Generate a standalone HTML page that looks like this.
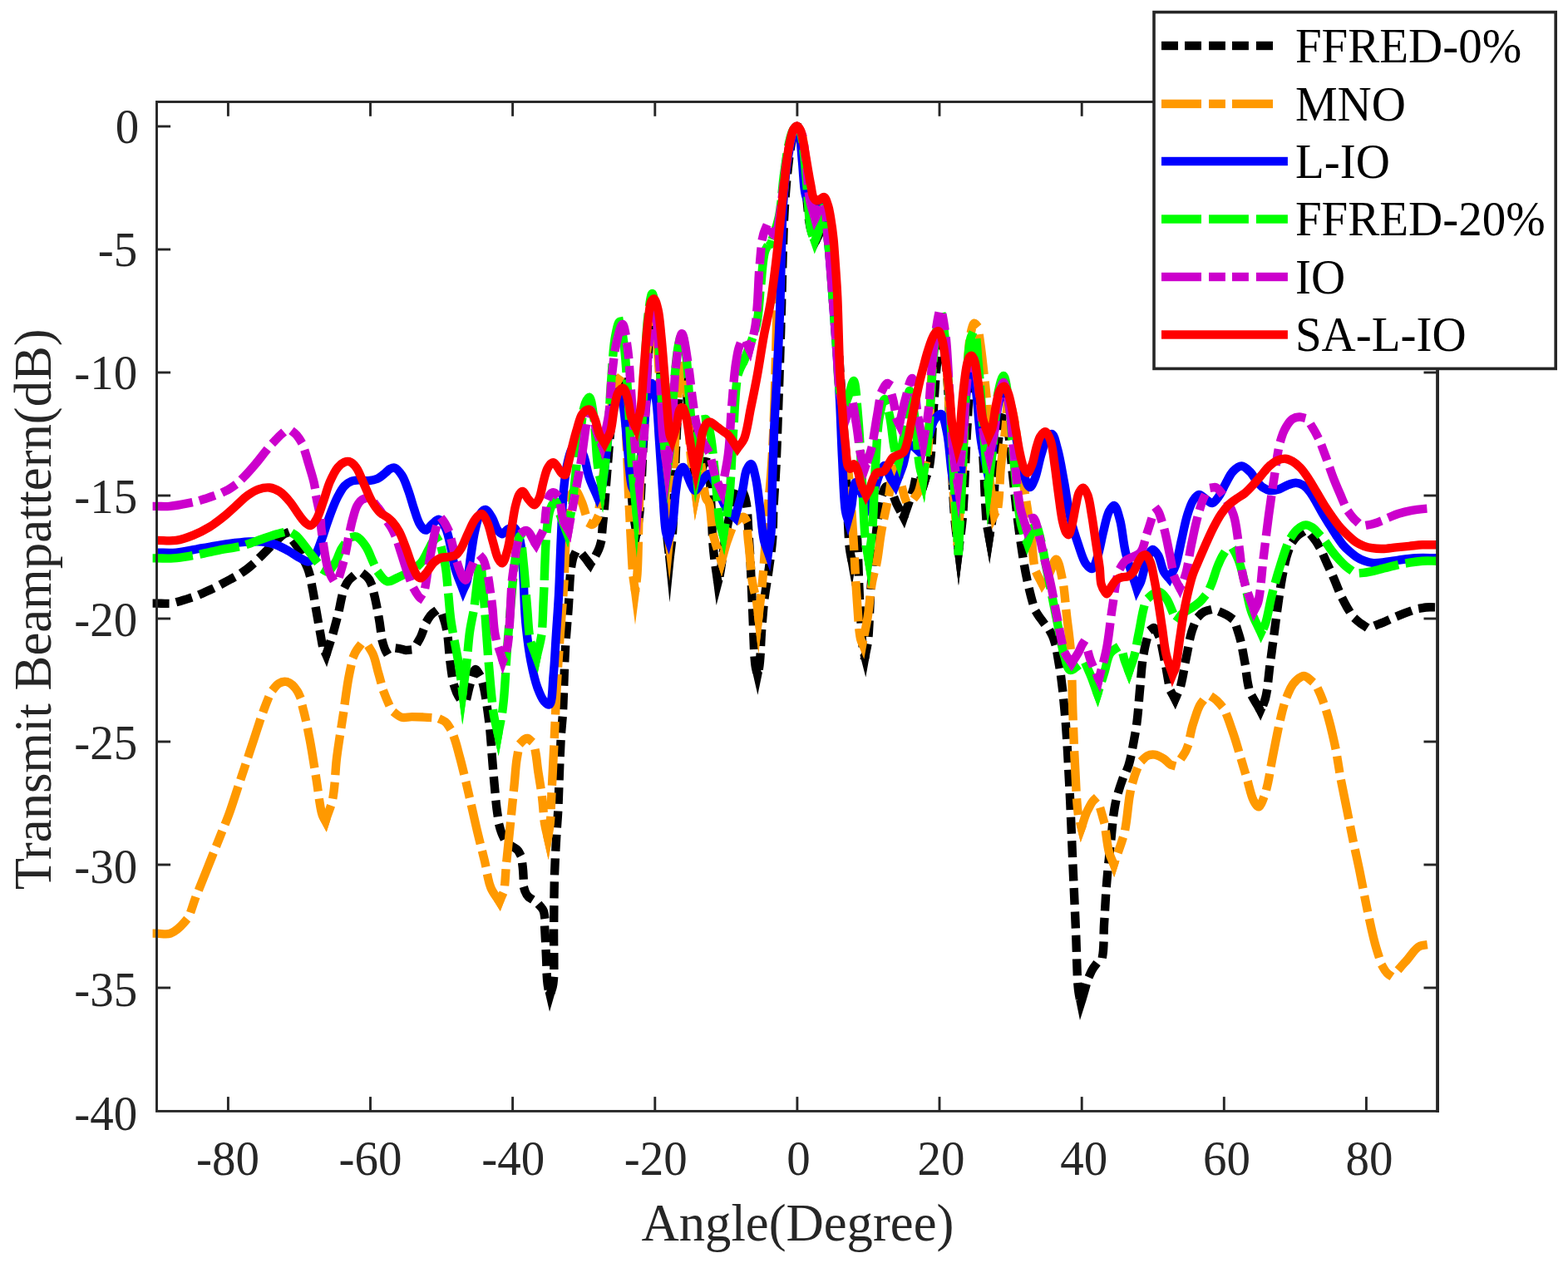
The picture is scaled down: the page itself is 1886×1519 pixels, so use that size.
<!DOCTYPE html>
<html lang="en">
<head>
<meta charset="utf-8">
<title>Transmit Beampattern</title>
<style>
html,body{margin:0;padding:0;background:#fff;}
body{width:1886px;height:1519px;overflow:hidden;}
svg{display:block;}
text{font-family:'Liberation Serif', 'Times New Roman', Times, serif;}
.tk{font-size:58.33px;fill:#262626;}
.lb{font-size:64.17px;fill:#262626;}
.lg{font-size:58.33px;fill:#000;}
</style>
</head>
<body>
<svg xmlns="http://www.w3.org/2000/svg" width="1886" height="1519" viewBox="0 0 1886 1519">
<rect x="0" y="0" width="1886" height="1519" fill="#ffffff"/>
<defs><clipPath id="ax"><rect x="182.3" y="122.5" width="1548.2" height="1213.9"/></clipPath></defs>
<g clip-path="url(#ax)" fill="none" stroke-linejoin="miter" stroke-miterlimit="12" stroke-linecap="butt">
<path d="M390.7 783.8L392.3 787.5L393.5 783.7M660.7 1192.3L661.6 1196.2L662.7 1192.4M707.4 675.7L709.8 678.9L711.7 675.4M764.9 637.4L765.4 641.4L766.1 637.4M805.1 668.2L805.5 672.2L805.9 668.2M838.2 573.5L839.6 577.2L841.3 573.6M862.9 696.9L863.4 700.8L864.4 697.0M910.2 807.4L911.1 811.3L911.9 807.4M979.3 286.7L980.7 290.5L982.5 286.9M1023.8 669.7L1024.5 673.6L1025.1 669.7M1039.4 786.1L1040.4 790.0L1041.1 786.1M1085.2 618.8L1087.0 622.3L1088.3 618.5M1109.4 576.6L1111.9 579.7L1113.1 575.9M1152.5 658.2L1153.0 662.2L1153.5 658.2M1189.2 642.2L1189.9 646.2L1190.5 642.2M1299.3 1202.2L1300.1 1206.2L1301.3 1202.4M1411.6 837.1L1413.4 840.7L1415.0 837.0M1514.1 851.1L1515.9 854.6L1517.5 851.0" stroke="#000000" stroke-width="10.4"/>
<path d="M188.8 725.6C193.8 725.6 198.7 726.2 203.9 725.6C209.6 725.0 215.1 723.5 221.4 721.6C229.2 719.3 238.5 715.8 246.9 712.1C255.5 708.4 264.1 703.8 272.4 699.3C280.6 694.8 289.0 690.4 296.3 685.0C303.3 679.8 309.4 673.3 315.4 667.5C321.0 662.1 326.7 656.0 331.4 651.5C334.9 648.1 338.1 644.3 340.9 642.8C342.6 641.8 344.2 641.0 345.7 641.5C348.0 642.3 349.9 646.9 352.1 649.9C354.6 653.3 357.7 657.0 360.0 661.1C362.5 665.5 364.4 670.9 366.4 675.4C368.1 679.4 369.8 682.1 371.2 686.6C373.1 692.7 374.5 701.1 376.0 708.9C377.7 717.5 379.1 727.0 380.7 736.0C382.3 745.0 384.0 755.2 385.5 763.0C386.6 769.0 387.3 774.6 388.7 779.0C389.7 782.3 391.1 784.7 392.3 787.5C395.2 778.3 398.4 769.0 401.0 760.0C403.4 751.5 405.6 742.9 407.5 735.0C409.2 728.0 410.1 721.1 412.0 715.0C413.7 709.6 415.2 704.0 418.0 700.0C420.4 696.6 423.7 693.6 427.0 692.0C429.9 690.6 433.7 689.7 436.5 690.5C439.4 691.3 441.9 693.9 444.0 697.0C446.8 701.3 448.2 708.2 450.0 715.0C452.3 723.7 454.2 735.0 456.0 745.0C457.8 755.0 458.7 767.8 461.0 775.0C462.4 779.4 463.7 784.2 466.0 785.0C467.9 785.7 470.6 782.8 473.0 782.0C475.3 781.2 477.6 780.0 480.0 780.0C482.6 780.0 485.3 782.0 488.0 782.0C490.7 782.0 493.5 781.6 496.0 780.0C499.3 777.8 502.4 772.7 505.0 768.0C508.2 762.4 510.1 753.4 513.0 748.0C515.2 743.9 517.2 740.4 520.0 738.0C522.5 735.9 526.4 733.2 528.7 734.0C531.3 734.9 532.5 740.8 534.0 745.0C535.9 750.3 537.1 756.6 538.2 763.7C539.7 772.9 540.0 785.3 541.4 795.6C542.7 805.4 544.0 816.6 546.2 824.3C547.8 829.8 549.5 834.7 552.0 838.0C553.9 840.5 557.0 844.0 558.9 843.4C561.8 842.5 562.9 831.3 565.0 825.0C567.2 818.5 569.2 805.6 571.7 805.1C573.1 804.8 574.7 807.8 576.0 810.0C578.0 813.4 579.8 818.7 581.3 824.3C583.3 831.8 584.6 842.1 586.0 851.3C587.4 860.7 588.5 870.2 589.5 880.0C590.5 890.3 591.1 901.3 592.0 911.9C592.9 922.5 593.7 933.1 594.7 943.7C595.7 954.3 596.5 965.9 597.9 975.6C599.1 983.8 600.1 991.9 602.0 998.0C603.4 1002.4 604.8 1005.8 607.0 1009.0C609.1 1012.1 612.2 1014.6 615.0 1017.0C617.7 1019.4 621.3 1020.3 623.4 1023.4C626.1 1027.4 627.0 1033.5 628.3 1040.0C630.0 1048.8 629.2 1065.2 631.5 1071.9C632.7 1075.3 634.2 1077.4 636.0 1079.0C637.5 1080.3 639.4 1080.2 641.1 1081.4C643.4 1082.9 645.9 1085.6 648.0 1088.0C650.1 1090.4 652.5 1092.2 653.8 1095.8C655.9 1101.4 654.9 1111.2 655.4 1119.7C656.0 1129.5 656.5 1140.9 657.0 1151.5C657.5 1162.1 657.5 1175.2 658.6 1183.4C659.3 1188.7 660.6 1191.9 661.6 1196.2C662.8 1191.9 664.4 1189.4 665.3 1183.4C667.2 1170.3 665.9 1139.4 666.1 1119.7C666.3 1102.6 666.3 1086.2 666.6 1071.9C666.8 1060.2 667.0 1051.2 667.5 1040.0C668.0 1027.4 668.9 1011.7 669.6 1000.0C670.1 990.9 670.7 985.7 671.2 975.6C672.0 959.4 672.8 929.5 673.6 911.9C674.1 899.4 674.6 889.5 675.2 880.0C675.7 872.4 676.3 868.4 676.8 859.3C677.9 841.4 678.7 803.2 680.0 780.0C681.1 761.8 682.5 747.4 683.7 731.2C684.8 715.2 685.1 695.1 686.9 683.4C688.0 676.4 688.7 670.5 691.0 667.0C692.5 664.8 694.7 662.5 696.5 662.7C698.7 662.9 700.9 667.4 703.0 670.0C705.3 672.8 707.5 676.0 709.8 678.9C713.6 671.9 718.7 665.5 721.3 657.7C724.1 649.3 723.9 641.0 725.1 630.0C726.9 613.8 728.4 590.0 730.0 570.0C731.7 550.0 733.2 528.6 735.0 510.0C736.6 493.9 737.3 475.8 740.0 465.0C741.6 458.5 744.2 449.9 746.0 450.0C748.0 450.1 749.6 461.5 751.0 470.0C753.4 484.6 754.4 508.6 756.0 530.0C757.8 554.7 758.9 589.5 761.0 610.0C762.3 622.9 764.0 630.9 765.4 641.4C766.6 634.2 767.9 629.6 769.0 620.0C771.2 600.4 772.3 560.0 774.0 530.0C775.7 500.0 777.3 466.3 779.0 440.0C780.3 419.4 781.2 398.1 783.0 385.0C784.0 377.7 785.3 368.0 786.5 368.0C787.7 368.0 789.0 377.7 790.0 385.0C791.8 398.1 792.8 419.4 794.0 440.0C795.5 466.3 796.7 498.5 798.0 530.0C799.4 564.8 800.1 614.3 802.0 640.0C803.0 653.9 804.3 661.4 805.5 672.2C806.7 661.4 808.0 653.7 809.0 640.0C810.8 615.9 811.5 570.4 813.0 540.0C814.2 514.6 815.1 487.4 817.0 470.0C818.1 459.5 819.6 445.0 821.0 445.0C822.3 445.0 823.8 456.6 825.0 465.0C827.0 478.8 828.2 502.6 830.0 520.0C831.6 535.8 832.6 554.8 835.0 565.0C836.3 570.5 838.0 573.1 839.6 577.2C840.7 574.8 841.8 572.9 843.0 570.0C844.6 565.9 846.1 555.3 848.0 555.0C849.2 554.8 850.9 557.3 852.0 560.0C854.7 566.8 854.1 585.3 855.0 600.0C856.1 618.0 856.4 641.9 858.0 660.0C859.4 675.0 861.6 687.2 863.4 700.8C864.3 697.2 865.1 694.8 866.0 690.0C867.8 680.9 869.7 663.3 872.0 650.0C874.3 636.6 876.8 621.3 880.0 610.0C882.4 601.5 884.8 588.7 888.0 588.0C890.1 587.5 893.1 591.1 895.0 595.0C899.5 604.3 899.4 629.9 901.0 650.0C902.9 674.2 903.7 704.2 905.0 730.0C906.2 754.1 906.7 786.7 908.5 800.0C909.3 805.4 910.2 807.6 911.1 811.3C911.9 807.6 912.8 805.0 913.5 800.0C914.8 790.8 915.0 773.3 916.0 760.0C917.0 746.7 918.0 732.4 919.5 720.0C920.8 709.3 922.5 700.7 924.0 690.0C925.7 677.6 927.9 663.4 929.0 650.0C930.1 636.7 929.8 624.1 930.5 610.0C931.3 594.3 932.6 578.6 933.5 560.0C934.6 536.5 935.6 504.8 936.5 480.0C937.3 458.6 937.9 440.0 938.5 420.0C939.1 400.0 939.7 380.0 940.3 360.0C940.8 340.0 941.2 319.1 941.8 300.0C942.4 282.6 942.8 266.2 943.8 250.0C944.7 234.6 946.0 218.8 947.5 205.0C948.8 193.1 950.2 180.8 952.0 172.0C953.2 166.0 954.6 160.6 956.0 157.0C956.9 154.8 957.8 152.0 958.7 152.0C959.7 152.0 961.0 155.2 962.0 158.0C963.9 163.7 964.8 174.6 966.0 185.0C967.6 199.1 968.4 219.3 970.0 235.0C971.4 249.1 972.5 264.9 975.0 275.0C976.6 281.5 978.8 285.3 980.7 290.5C982.2 287.7 983.6 285.5 985.0 282.0C987.1 276.8 988.8 262.2 991.0 262.0C992.8 261.9 995.3 269.5 997.0 275.0C999.7 283.7 1001.5 296.7 1003.0 310.0C1004.9 327.3 1004.9 349.2 1006.0 370.0C1007.2 392.4 1008.6 417.6 1010.0 440.0C1011.3 460.8 1012.7 478.6 1014.0 500.0C1015.4 524.7 1016.7 553.3 1018.0 580.0C1019.3 606.7 1020.2 644.4 1022.0 660.0C1022.7 666.5 1023.7 669.1 1024.5 673.6C1025.7 665.8 1026.9 656.2 1028.0 650.0C1028.7 646.0 1029.4 640.0 1030.0 640.0C1031.7 640.1 1032.6 695.3 1034.0 720.0C1035.3 741.4 1036.3 768.4 1038.0 780.0C1038.7 784.8 1039.6 786.7 1040.4 790.0C1041.6 783.3 1043.0 778.7 1044.0 770.0C1045.9 753.8 1046.2 722.4 1048.0 700.0C1049.6 679.2 1051.8 658.0 1054.0 640.0C1055.8 625.3 1057.3 610.0 1060.0 600.0C1061.7 593.7 1063.5 585.6 1066.0 585.0C1067.8 584.6 1070.2 587.6 1072.0 590.0C1074.5 593.5 1075.7 599.9 1078.0 605.0C1080.6 610.6 1084.0 616.5 1087.0 622.3C1090.7 611.5 1095.0 599.5 1098.0 590.0C1100.4 582.6 1101.2 570.6 1104.0 570.0C1106.2 569.6 1109.3 576.5 1111.9 579.7C1113.9 573.1 1116.4 568.7 1118.0 560.0C1121.0 543.9 1121.3 512.4 1123.0 490.0C1124.6 469.2 1125.6 444.6 1128.0 430.0C1129.4 421.5 1131.5 409.9 1133.0 410.0C1134.9 410.1 1136.6 427.6 1138.0 440.0C1140.3 460.2 1141.4 491.8 1143.0 520.0C1144.8 551.5 1145.8 593.8 1148.0 620.0C1149.4 637.1 1151.3 648.1 1153.0 662.2C1154.7 648.1 1156.6 637.1 1158.0 620.0C1160.2 593.8 1161.1 549.7 1163.0 520.0C1164.5 496.0 1165.2 469.0 1168.0 455.0C1169.4 448.1 1171.6 439.9 1173.0 440.0C1175.2 440.2 1176.6 460.8 1178.0 475.0C1180.2 497.1 1181.4 533.0 1183.0 560.0C1184.4 584.5 1185.2 614.9 1187.0 630.0C1187.9 637.3 1188.9 640.8 1189.9 646.2C1191.3 637.4 1192.8 631.0 1194.0 620.0C1196.1 601.5 1196.3 566.8 1199.0 545.0C1201.1 528.0 1204.2 500.2 1207.0 500.0C1208.6 499.9 1210.5 508.3 1212.0 515.0C1214.7 527.5 1215.8 550.6 1218.0 570.0C1220.4 591.9 1222.9 617.6 1226.0 640.0C1228.9 660.8 1232.1 682.8 1236.0 700.0C1239.0 713.3 1241.8 726.0 1246.0 735.0C1248.9 741.3 1252.7 745.0 1256.0 750.0C1259.3 755.0 1263.3 758.6 1266.0 765.0C1269.9 774.0 1271.7 786.7 1274.0 800.0C1277.0 817.3 1279.1 838.5 1281.0 860.0C1283.2 884.7 1284.5 912.5 1286.0 940.0C1287.6 969.1 1288.7 1000.0 1290.0 1030.0C1291.3 1060.0 1292.8 1091.9 1294.0 1120.0C1295.1 1144.8 1295.3 1174.9 1297.0 1190.0C1297.8 1197.3 1299.0 1200.8 1300.1 1206.2C1300.7 1204.1 1301.2 1202.5 1302.0 1200.0C1303.2 1196.2 1304.8 1190.1 1306.3 1185.3C1307.8 1180.7 1309.3 1175.8 1311.0 1172.0C1312.3 1169.0 1313.5 1166.5 1315.1 1164.1C1316.6 1161.9 1318.3 1159.9 1320.0 1158.0C1321.6 1156.2 1323.8 1155.7 1325.1 1152.8C1328.3 1145.7 1327.1 1125.1 1328.1 1110.3C1329.2 1094.3 1329.9 1076.9 1331.3 1060.2C1332.7 1043.5 1334.5 1026.2 1336.3 1010.2C1337.9 995.4 1338.8 980.5 1341.4 967.6C1343.6 956.6 1347.0 946.2 1350.1 937.6C1352.5 930.9 1355.6 926.4 1357.6 920.1C1359.8 913.1 1361.0 905.6 1362.6 897.5C1364.4 888.2 1366.2 878.1 1367.6 867.5C1369.1 855.7 1369.8 842.7 1371.0 830.0C1372.3 816.9 1373.0 801.7 1375.0 790.0C1376.6 780.6 1378.3 771.3 1381.0 765.0C1382.9 760.7 1385.4 755.0 1387.6 755.0C1389.8 755.0 1392.1 760.6 1394.0 765.0C1397.0 772.1 1398.7 784.6 1401.0 795.0C1403.4 806.2 1405.2 821.8 1408.0 830.0C1409.6 834.7 1411.6 837.1 1413.4 840.7C1415.6 835.5 1418.0 831.4 1420.0 825.0C1422.8 815.7 1424.5 801.6 1427.0 790.0C1429.5 778.3 1431.3 764.4 1435.0 755.0C1437.8 748.1 1441.0 741.5 1445.0 738.0C1448.0 735.4 1451.4 734.1 1455.2 733.8C1459.6 733.4 1465.4 735.1 1470.0 737.0C1474.5 738.9 1479.3 741.2 1482.5 745.0C1486.2 749.3 1487.8 755.6 1490.0 762.5C1492.9 771.6 1494.9 783.9 1497.0 795.0C1499.2 806.4 1499.5 819.6 1503.0 830.0C1506.1 839.2 1511.6 846.4 1515.9 854.6C1518.0 849.8 1520.3 846.2 1522.0 840.0C1524.7 830.1 1525.7 813.1 1527.5 800.0C1529.2 787.3 1530.8 775.0 1532.5 762.5C1534.2 750.0 1535.7 737.3 1537.5 725.0C1539.2 713.1 1540.8 701.0 1543.0 690.0C1545.0 680.1 1546.7 670.0 1550.0 662.0C1552.7 655.4 1555.9 648.8 1560.0 645.0C1563.3 641.9 1568.0 638.8 1571.4 639.3C1574.7 639.8 1577.5 644.1 1580.2 647.3C1583.2 650.9 1585.6 655.3 1588.1 660.0C1590.9 665.3 1593.4 671.7 1596.1 677.5C1598.8 683.3 1601.5 689.0 1604.1 695.0C1606.8 701.2 1609.3 708.2 1612.1 714.2C1614.6 719.8 1617.0 725.0 1620.0 730.0C1623.0 734.9 1626.4 740.2 1630.0 744.0C1633.1 747.3 1637.1 750.2 1640.0 752.0C1642.0 753.3 1643.1 754.4 1645.4 754.6C1649.0 754.9 1654.8 751.9 1660.0 750.0C1666.2 747.7 1673.3 744.0 1680.0 741.3C1686.6 738.6 1693.8 735.6 1700.0 733.8C1705.3 732.2 1710.1 731.0 1715.0 730.5C1719.7 730.0 1724.3 730.5 1729.0 730.5" stroke="#000000" stroke-width="10.4" stroke-dasharray="9.60 18.87" stroke-linecap="square"/>
<path d="M389.6 983.8L391.5 987.4L392.7 983.6M598.6 1080.9L600.7 1084.3L602.2 1080.6M658.0 1003.6L658.9 1007.5L659.6 1003.6M763.5 706.6L764.0 710.5L764.5 706.6M804.2 648.2L804.7 652.2L805.1 648.2M836.5 590.5L837.0 594.5L837.8 590.6M866.6 671.4L867.8 675.2L868.9 671.3M911.8 738.2L912.3 742.2L912.8 738.2M979.8 263.1L981.1 266.9L983.6 263.8M1035.9 770.3L1037.4 774.0L1038.1 770.1M1151.5 648.2L1151.8 652.2L1152.1 648.2M1195.5 615.3L1196.0 619.3L1197.8 615.7M1252.0 698.9L1253.7 702.5L1255.9 699.2M1299.9 991.4L1300.8 995.2L1302.2 991.5M1338.2 1035.9L1339.7 1039.6L1340.9 1035.8" stroke="#ff9900" stroke-width="10.4"/>
<path d="M188.8 1122.6C194.2 1122.6 199.7 1124.6 205.0 1122.6C211.8 1120.0 220.0 1112.1 225.0 1105.1C230.0 1098.0 231.7 1088.4 235.1 1080.1C238.4 1071.8 241.8 1063.4 245.1 1055.1C248.4 1046.7 251.8 1038.4 255.1 1030.0C258.4 1021.7 261.8 1013.3 265.1 1005.0C268.4 996.7 271.9 988.7 275.1 980.0C278.6 970.5 281.8 960.2 285.1 950.2C288.4 940.2 291.8 930.2 295.1 920.2C298.4 910.2 301.8 900.1 305.1 890.1C308.4 880.1 311.6 869.6 315.1 860.1C318.3 851.3 321.3 841.9 325.2 835.1C328.2 829.8 331.4 824.5 335.2 822.1C338.2 820.2 341.9 819.2 345.2 820.1C349.4 821.3 354.5 826.3 357.7 831.3C361.6 837.4 362.9 846.3 365.2 855.1C368.0 865.6 370.3 877.7 372.7 890.1C375.4 904.2 377.7 920.2 380.2 935.2C382.7 950.2 384.8 971.8 387.7 980.2C388.9 983.8 390.2 985.0 391.5 987.4C394.4 978.3 398.0 970.8 400.2 960.2C403.1 946.2 403.1 926.8 405.2 910.2C407.3 893.5 410.2 876.8 412.7 860.1C415.2 843.4 417.3 824.0 420.3 810.1C422.5 799.9 424.1 790.2 427.8 783.8C430.5 779.2 434.5 773.7 437.8 773.8C441.2 773.9 445.1 780.1 447.8 785.0C451.4 791.4 452.8 801.7 455.3 810.1C457.8 818.4 459.7 827.4 462.8 835.1C465.6 842.3 468.8 850.3 472.8 855.1C475.8 858.7 479.1 861.4 482.8 862.6C486.6 863.8 490.9 862.1 495.3 862.1C500.1 862.1 505.5 862.3 510.3 862.6C514.7 862.9 518.8 863.0 522.9 863.9C527.1 864.8 531.9 865.2 535.4 868.1C539.7 871.6 542.6 878.7 545.4 885.1C548.6 892.5 550.5 901.4 552.9 910.2C555.5 919.7 557.9 930.0 560.4 940.2C562.9 950.8 565.4 961.9 567.9 972.7C570.4 983.6 572.8 994.7 575.4 1005.3C577.9 1015.5 580.4 1025.1 582.9 1035.3C585.4 1045.9 586.8 1059.0 590.4 1067.8C593.2 1074.5 597.3 1078.8 600.7 1084.3C602.4 1079.9 604.6 1076.6 605.9 1071.2C607.9 1063.0 607.9 1049.9 609.0 1039.3C610.0 1028.7 611.1 1018.1 612.2 1007.5C613.3 996.9 614.3 986.2 615.4 975.6C616.5 965.0 617.5 954.3 618.6 943.7C619.7 933.1 620.2 921.0 621.8 911.9C623.1 904.9 623.8 897.6 626.6 893.5C628.6 890.6 632.0 887.6 634.5 888.0C637.4 888.5 640.5 894.2 642.5 899.1C645.5 906.2 645.7 918.0 647.3 927.8C648.9 938.1 650.8 949.1 652.1 959.7C653.4 970.3 653.9 982.7 655.3 991.5C656.3 997.8 657.7 1002.2 658.9 1007.5C659.8 1002.2 660.9 997.8 661.6 991.5C662.6 982.7 662.7 970.3 663.2 959.7C663.7 949.1 664.3 938.4 664.8 927.8C665.3 917.2 665.8 908.8 666.4 895.9C667.4 876.0 668.6 843.8 670.0 820.0C671.2 798.8 672.6 780.0 674.0 760.0C675.4 740.0 677.3 719.1 678.4 700.0C679.4 682.6 679.6 665.2 680.5 650.0C681.2 637.3 681.6 625.0 683.0 615.0C684.0 607.4 684.7 599.3 687.0 595.0C688.3 592.5 690.3 589.8 692.0 590.0C694.5 590.3 697.5 598.7 699.7 603.7C702.2 609.3 703.6 617.1 706.0 622.0C707.8 625.7 709.9 630.8 712.0 631.0C713.8 631.1 716.1 628.0 717.6 625.0C720.2 619.7 720.6 609.8 722.0 600.0C724.0 586.2 726.0 566.7 728.0 550.0C730.0 533.3 731.8 515.2 734.0 500.0C735.9 487.3 737.1 472.9 740.0 465.0C741.7 460.4 744.4 454.7 746.0 455.0C748.4 455.4 749.3 470.2 750.5 480.0C752.1 493.8 752.6 512.4 753.5 530.0C754.5 549.7 755.1 572.9 756.0 592.6C756.8 610.2 757.6 625.9 758.5 642.6C759.4 659.3 760.2 680.2 761.5 692.7C762.3 700.2 763.2 704.6 764.0 710.5C764.9 703.7 765.8 698.9 766.5 690.0C767.7 673.6 767.8 643.3 768.5 620.0C769.3 596.7 770.1 573.3 771.0 550.0C771.9 526.7 772.7 502.4 774.0 480.0C775.2 459.2 776.2 437.9 778.5 420.0C780.4 405.3 784.0 379.9 786.0 380.0C787.7 380.0 788.8 398.3 790.0 410.0C791.7 426.5 792.7 448.6 794.0 470.0C795.4 494.7 796.7 523.3 798.0 550.0C799.3 576.7 800.4 611.6 802.0 630.0C802.8 639.7 803.8 644.8 804.7 652.2C805.8 641.4 807.0 633.4 808.0 620.0C809.7 597.6 810.5 557.0 812.0 530.0C813.2 508.0 814.1 486.5 816.0 470.0C817.4 458.2 819.3 440.0 821.0 440.0C822.7 440.0 824.6 457.6 826.0 470.0C828.3 490.2 828.7 527.3 831.0 550.0C832.7 567.0 835.0 579.7 837.0 594.5C838.0 589.7 839.1 585.2 840.0 580.0C841.1 573.9 841.8 560.0 843.0 560.0C844.7 560.0 846.5 592.5 849.2 599.5C850.3 602.3 851.7 602.2 852.8 605.0C855.3 611.8 855.2 630.6 857.8 642.6C860.3 654.0 864.5 664.3 867.8 675.2C870.2 666.8 872.1 658.0 875.0 650.0C877.8 642.3 880.8 632.7 885.0 628.0C887.9 624.7 892.5 620.9 895.0 622.0C899.0 623.8 898.7 640.8 900.2 652.0C902.1 666.1 903.0 687.1 905.0 700.0C906.4 708.8 908.6 714.8 909.8 722.0C911.0 728.8 911.5 735.4 912.3 742.2C913.9 728.1 915.5 716.3 917.0 700.0C919.1 677.6 921.0 644.7 923.0 620.0C924.7 598.6 926.7 580.0 928.0 560.0C929.3 540.0 930.2 520.8 931.0 500.0C931.9 477.6 932.3 453.3 933.0 430.0C933.7 406.7 934.1 382.4 935.0 360.0C935.8 339.2 936.7 320.8 938.0 300.0C939.4 277.6 941.0 251.6 943.0 230.0C944.7 211.4 946.6 191.4 949.0 178.0C950.5 169.4 951.6 161.4 954.0 157.0C955.3 154.5 957.2 151.9 958.7 152.0C960.5 152.2 962.5 156.2 964.0 160.0C966.8 167.4 967.5 182.3 969.0 195.0C970.8 210.2 971.3 231.8 974.0 245.0C975.9 253.9 978.7 259.6 981.1 266.9C984.4 262.9 988.5 254.4 991.0 255.0C994.5 255.9 995.3 273.0 997.0 285.0C999.5 302.5 1001.2 328.2 1003.0 350.0C1004.8 372.2 1006.5 395.0 1008.0 417.0C1009.5 438.3 1010.5 459.3 1012.0 480.0C1013.5 500.3 1015.2 522.6 1017.0 540.0C1018.4 553.4 1020.0 562.0 1021.3 575.6C1023.1 593.9 1024.5 617.2 1026.0 640.0C1027.7 665.7 1029.0 698.6 1030.8 722.0C1032.1 739.5 1033.1 759.9 1035.0 768.0C1035.7 771.0 1036.6 772.0 1037.4 774.0C1039.5 763.4 1041.8 753.4 1043.7 742.0C1045.8 729.0 1046.8 712.1 1049.0 700.0C1050.7 690.5 1053.2 684.1 1054.9 675.0C1056.9 664.4 1057.8 652.3 1060.0 640.0C1062.5 626.0 1066.4 609.2 1069.2 595.6C1071.5 584.1 1072.8 564.0 1075.6 563.7C1077.7 563.5 1080.6 574.0 1083.0 580.0C1085.9 587.1 1087.9 602.3 1091.5 603.6C1093.4 604.3 1096.0 601.7 1098.0 600.0C1100.3 598.1 1102.5 595.9 1104.3 592.4C1107.0 587.1 1108.1 577.5 1110.0 570.0C1111.8 562.6 1113.9 558.0 1115.4 547.8C1118.5 526.6 1118.6 475.2 1120.8 448.0C1122.3 429.1 1123.5 411.4 1126.0 400.0C1127.4 393.5 1129.5 384.9 1131.0 385.0C1132.9 385.1 1134.6 399.5 1136.0 410.0C1138.4 427.4 1139.5 454.6 1141.0 480.0C1142.8 510.4 1144.0 549.4 1146.0 580.0C1147.7 606.0 1149.9 628.1 1151.8 652.2C1153.5 628.1 1155.4 606.6 1157.0 580.0C1158.9 547.2 1160.1 501.9 1162.0 470.0C1163.5 445.5 1164.4 419.4 1167.0 405.0C1168.3 397.6 1169.9 388.9 1171.8 388.6C1173.1 388.4 1174.9 392.2 1176.0 395.0C1177.6 399.1 1178.0 405.2 1179.0 411.7C1180.4 420.9 1181.7 433.5 1183.0 445.0C1184.4 457.3 1185.9 468.0 1187.0 483.4C1188.6 506.5 1188.1 545.2 1190.0 570.0C1191.5 588.8 1194.0 602.9 1196.0 619.3C1197.3 616.7 1198.7 615.4 1199.8 611.5C1202.4 602.0 1202.3 576.5 1204.0 560.0C1205.6 544.7 1207.8 529.9 1209.4 516.0C1210.8 503.4 1211.0 480.2 1213.0 480.0C1214.5 479.9 1217.2 492.1 1219.0 500.0C1221.5 511.0 1222.9 525.7 1225.0 540.0C1227.5 556.7 1230.4 576.7 1233.0 594.0C1235.4 610.0 1237.9 624.7 1240.0 640.0C1242.0 655.1 1242.1 673.7 1245.4 685.0C1247.5 692.4 1250.9 696.7 1253.7 702.5C1256.4 698.4 1259.4 694.6 1262.0 690.0C1265.0 684.8 1267.9 672.4 1270.4 672.6C1273.3 672.8 1276.0 688.1 1278.0 697.6C1280.5 709.8 1281.4 725.7 1283.0 740.0C1284.7 754.8 1286.8 768.1 1288.0 785.0C1289.6 806.8 1289.6 836.4 1290.5 860.0C1291.3 881.1 1291.9 900.0 1293.0 920.0C1294.1 940.0 1294.9 966.7 1297.0 980.0C1298.1 986.8 1299.6 990.2 1300.8 995.2C1303.2 988.5 1305.0 980.9 1308.0 975.0C1310.7 969.8 1314.6 961.2 1317.5 961.5C1321.1 961.9 1324.4 976.0 1327.0 985.0C1330.3 996.4 1331.2 1015.1 1334.0 1025.0C1335.7 1031.2 1337.8 1034.7 1339.7 1039.6C1344.0 1026.5 1349.3 1014.3 1352.6 1000.3C1356.3 984.8 1356.6 964.7 1360.1 950.3C1362.8 938.9 1365.9 927.5 1370.1 920.2C1373.0 915.2 1376.5 910.9 1380.1 909.0C1382.9 907.5 1385.9 907.3 1388.9 907.7C1392.5 908.2 1396.6 910.6 1400.1 912.7C1403.7 914.8 1406.5 920.4 1410.1 920.2C1414.7 919.9 1421.2 911.9 1425.2 905.2C1430.4 896.4 1431.6 880.8 1435.2 870.2C1438.3 861.1 1440.7 850.5 1445.2 845.2C1448.4 841.5 1452.6 838.1 1456.4 838.4C1460.9 838.8 1466.2 844.8 1470.2 850.2C1475.5 857.5 1479.0 869.9 1482.7 880.2C1486.5 890.7 1489.6 902.6 1492.7 912.7C1495.4 921.6 1497.7 929.4 1500.2 937.8C1502.7 946.1 1504.7 957.1 1507.8 962.8C1509.7 966.3 1512.0 970.6 1514.0 970.3C1517.0 969.9 1520.3 958.2 1522.8 950.3C1526.1 939.9 1527.8 925.2 1530.3 912.7C1532.8 900.2 1535.2 887.0 1537.8 875.2C1540.2 864.6 1542.2 854.4 1545.3 845.2C1548.1 837.0 1551.3 828.1 1555.3 822.6C1558.3 818.6 1562.6 815.2 1565.3 813.9C1566.8 813.2 1567.6 812.7 1569.1 813.1C1572.4 814.0 1578.9 819.6 1582.8 825.1C1588.1 832.5 1591.7 844.3 1595.3 855.2C1599.4 867.5 1602.5 881.6 1605.4 895.2C1608.4 909.1 1610.3 924.1 1612.9 937.8C1615.3 950.7 1617.9 962.8 1620.4 975.3C1622.9 987.8 1625.4 1000.5 1627.9 1012.8C1630.4 1024.7 1632.8 1035.0 1635.4 1047.7C1638.5 1062.9 1641.9 1081.8 1645.4 1097.8C1648.6 1112.6 1651.6 1127.9 1655.4 1140.3C1658.5 1150.2 1661.6 1161.1 1665.5 1166.6C1667.8 1169.8 1670.0 1172.9 1673.0 1172.8C1677.7 1172.7 1684.8 1162.3 1690.5 1156.6C1696.4 1150.7 1701.2 1140.8 1708.0 1137.8C1714.2 1135.1 1722.0 1137.8 1729.0 1137.8" stroke="#ff9900" stroke-width="10.4" stroke-dasharray="38.00 18.90 9.60 18.90" stroke-linecap="square"/>
<path d="M188.8 664.6C196.5 664.6 203.6 665.3 211.9 664.6C221.7 663.8 233.1 661.0 243.7 659.2C254.3 657.4 265.7 655.2 275.6 653.9C284.1 652.8 292.3 651.9 299.5 651.5C305.3 651.2 310.1 650.9 315.4 651.5C320.8 652.1 326.2 653.2 331.4 655.0C336.8 656.9 342.4 660.0 347.3 662.7C351.8 665.2 355.8 668.4 360.0 670.6C363.8 672.6 368.0 676.0 371.2 675.4C374.3 674.8 376.8 671.0 379.2 667.5C382.4 662.7 384.7 654.7 387.1 648.3C389.5 642.0 391.3 635.4 393.5 629.2C395.6 623.2 397.7 617.2 399.9 611.7C401.9 606.7 403.8 602.0 406.2 597.4C408.6 592.9 411.2 587.8 414.2 584.6C416.6 582.0 419.3 580.2 422.2 579.0C425.1 577.8 428.4 577.6 431.7 577.4C435.3 577.2 439.2 578.5 442.9 578.2C446.6 577.9 450.6 577.3 454.0 575.8C457.5 574.2 460.9 570.9 463.6 568.7C465.8 567.0 467.2 564.9 469.2 563.9C471.0 563.0 472.9 562.0 474.8 562.6C477.6 563.5 481.0 568.0 483.6 571.9C486.8 576.9 489.1 584.4 491.5 591.0C493.9 597.7 495.7 605.1 497.9 611.7C500.0 617.8 501.8 624.6 504.3 629.2C506.2 632.6 508.8 636.2 510.6 637.2C511.5 637.7 512.1 637.8 513.0 637.5C514.9 636.8 517.6 632.1 520.2 630.0C522.7 627.9 525.7 624.3 528.2 624.8C531.1 625.3 533.9 631.0 536.1 635.6C539.1 641.8 540.6 651.5 542.5 659.5C544.4 667.4 545.0 675.3 547.3 683.4C549.8 692.1 553.8 701.0 557.1 709.8C558.6 706.3 560.3 703.9 561.6 699.3C563.8 691.7 564.8 677.8 566.4 667.5C568.0 657.7 569.1 647.5 571.2 638.8C573.0 631.3 574.7 622.4 577.6 618.1C579.4 615.4 581.8 612.8 583.9 613.0C586.5 613.3 589.6 619.0 591.9 622.8C594.5 627.0 595.9 633.8 598.3 637.2C600.0 639.6 601.8 642.2 603.8 642.3C606.0 642.4 608.5 637.7 611.0 636.4C613.3 635.2 616.2 633.5 618.2 634.3C620.6 635.2 622.3 639.7 623.8 643.6C625.9 649.0 626.6 655.0 627.7 664.3C629.9 682.8 630.0 723.9 632.2 747.8C633.9 766.0 635.9 781.4 638.6 795.6C640.9 807.3 643.4 818.7 646.6 827.4C649.0 833.8 651.5 840.1 654.5 843.4C656.5 845.6 659.2 848.2 660.9 847.4C664.6 845.7 664.4 824.3 665.7 811.5C667.2 796.7 667.8 779.6 668.9 763.7C669.9 747.8 671.1 733.1 672.0 715.9C673.1 695.7 673.7 671.4 674.7 650.0C675.7 629.5 676.2 607.3 677.9 590.0C679.2 576.7 680.7 564.5 683.0 555.0C684.7 548.2 686.2 541.2 689.0 538.0C690.7 536.1 693.2 534.4 695.0 535.0C697.7 535.9 699.9 542.7 702.0 548.0C704.8 555.2 706.1 566.5 709.0 575.0C711.7 582.9 715.3 589.9 718.5 597.4C720.3 593.3 722.4 590.8 724.0 585.0C727.2 573.3 728.5 547.4 731.0 530.0C733.2 514.2 734.7 495.8 738.0 485.0C740.0 478.5 743.1 469.8 745.0 470.0C747.2 470.2 748.6 481.8 750.0 490.0C752.2 502.9 753.3 523.8 755.0 540.0C756.6 555.4 757.6 577.2 760.0 585.0C760.9 587.9 762.0 588.8 763.0 590.7C765.4 580.5 768.1 571.5 770.0 560.0C772.4 545.4 773.4 525.2 775.0 510.0C776.4 497.3 776.9 483.9 779.0 475.0C780.4 469.2 782.4 460.9 784.0 461.0C785.8 461.1 787.7 472.1 789.0 480.0C791.2 492.6 791.7 512.6 793.0 530.0C794.4 549.1 795.6 570.9 797.0 590.0C798.3 607.4 799.0 630.1 801.0 640.0C801.9 644.3 803.0 646.1 804.0 649.1C805.7 642.8 807.6 637.6 809.0 630.0C810.9 619.2 811.4 601.3 813.0 590.0C814.2 581.6 814.9 572.9 817.0 568.0C818.2 565.2 820.1 561.9 821.5 562.0C823.1 562.1 824.5 567.0 826.0 570.0C827.7 573.6 829.2 578.5 831.0 582.0C832.6 585.0 834.2 589.9 836.0 590.0C837.6 590.1 839.3 586.3 841.0 584.0C843.0 581.3 844.8 577.4 847.0 575.0C848.9 572.9 851.1 569.7 853.0 570.0C855.4 570.3 857.8 575.9 860.0 580.0C862.9 585.4 865.2 593.9 868.0 600.0C870.5 605.4 873.0 611.1 876.0 615.0C878.4 618.2 881.3 620.0 884.0 622.5C887.0 611.6 890.6 600.2 893.0 590.0C895.1 581.2 895.5 570.6 898.0 565.0C899.5 561.7 901.8 557.7 903.4 558.0C905.7 558.4 907.4 568.2 909.0 575.0C911.2 584.5 912.4 597.9 914.0 610.0C915.7 622.9 916.7 640.0 919.0 650.0C920.4 656.3 922.3 659.9 924.0 664.9C925.1 656.6 926.7 650.1 927.5 640.0C928.8 624.4 928.4 600.0 929.0 580.0C929.6 560.0 930.3 538.0 931.0 520.0C931.6 505.3 932.3 493.3 933.0 480.0C933.7 466.7 934.3 453.3 935.0 440.0C935.7 426.7 936.4 413.2 937.0 400.0C937.6 387.2 938.1 375.0 938.5 362.0C938.9 348.4 939.2 333.8 939.5 320.0C939.8 306.5 940.1 292.9 940.5 280.0C940.9 267.9 941.3 256.7 942.0 245.0C942.8 233.3 943.7 221.2 945.0 210.0C946.2 199.6 947.8 188.7 949.5 180.0C950.9 173.2 952.2 167.1 954.0 162.0C955.4 158.1 957.4 151.9 958.7 152.0C959.8 152.1 960.7 156.3 961.5 160.0C963.2 167.5 963.8 182.9 965.0 195.0C966.3 207.9 966.4 224.7 969.0 235.0C970.7 241.9 973.6 246.0 975.9 251.6C978.9 248.7 982.3 242.9 985.0 243.0C987.3 243.1 989.4 246.4 991.0 250.0C994.4 257.6 994.5 275.3 996.0 290.0C997.9 308.0 999.4 329.4 1001.0 350.0C1002.7 371.7 1004.5 395.0 1006.0 417.0C1007.5 438.3 1008.9 458.4 1010.0 480.0C1011.2 502.7 1011.8 527.1 1013.0 550.0C1014.2 572.1 1014.9 602.6 1017.0 615.0C1017.8 620.1 1018.9 622.0 1019.9 625.5C1021.3 620.4 1022.7 616.1 1024.0 610.0C1025.8 601.7 1026.4 580.5 1029.0 580.0C1030.6 579.7 1033.1 585.9 1035.0 590.0C1037.7 595.7 1040.1 604.4 1042.6 611.7C1044.4 607.8 1046.3 604.2 1048.0 600.0C1049.8 595.4 1051.3 590.0 1053.0 585.0C1054.7 580.0 1056.0 574.4 1058.0 570.0C1059.7 566.2 1062.0 559.9 1064.0 560.0C1066.4 560.1 1068.6 570.7 1071.0 575.0C1072.9 578.5 1074.9 581.0 1076.8 584.0C1079.9 576.0 1083.1 568.1 1086.0 560.0C1088.9 551.8 1089.7 536.4 1094.0 535.0C1097.5 533.9 1103.3 542.0 1107.9 545.4C1110.9 538.6 1114.3 531.8 1117.0 525.0C1119.6 518.4 1120.8 509.7 1124.0 505.0C1126.2 501.7 1129.8 497.4 1132.0 498.0C1135.3 498.9 1137.1 511.1 1139.0 520.0C1141.9 533.2 1142.7 555.2 1145.0 570.0C1146.8 581.8 1148.9 591.2 1150.9 601.8C1151.9 597.8 1153.1 595.6 1154.0 590.0C1156.2 576.5 1157.3 542.4 1159.0 520.0C1160.6 499.2 1161.6 474.6 1164.0 460.0C1165.4 451.5 1167.5 439.9 1169.0 440.0C1170.9 440.1 1172.4 458.3 1174.0 470.0C1176.2 486.5 1177.3 512.3 1180.0 530.0C1182.1 544.1 1185.1 555.2 1187.7 567.9C1188.8 565.2 1190.0 563.9 1191.0 560.0C1193.5 550.6 1194.7 524.8 1197.0 510.0C1198.8 498.1 1200.3 485.0 1203.0 478.0C1204.5 474.3 1206.4 469.9 1208.0 470.0C1210.1 470.2 1212.2 478.9 1214.0 485.0C1216.7 494.1 1218.6 507.9 1221.0 520.0C1223.6 532.9 1226.1 548.6 1229.0 560.0C1231.2 568.8 1233.6 579.1 1236.0 583.0C1237.0 584.7 1237.9 586.2 1239.0 586.0C1240.8 585.7 1243.2 579.6 1245.0 575.0C1247.7 568.1 1249.5 556.3 1252.0 548.0C1254.2 540.8 1256.1 532.5 1259.0 528.0C1260.9 525.1 1263.4 521.6 1265.3 522.0C1268.1 522.6 1269.9 532.7 1272.0 540.0C1275.0 550.6 1277.4 566.3 1280.0 580.0C1282.7 594.5 1284.8 611.6 1288.0 625.0C1290.6 636.1 1293.8 645.7 1297.0 655.0C1299.8 663.2 1302.4 673.1 1306.0 678.0C1308.3 681.1 1311.3 684.5 1313.5 684.0C1316.2 683.4 1318.0 675.7 1320.0 670.0C1322.8 662.0 1324.6 649.5 1327.0 640.0C1329.2 631.3 1331.0 620.6 1334.0 615.0C1335.8 611.7 1338.3 607.7 1340.2 608.0C1342.8 608.5 1345.0 618.0 1347.0 625.0C1350.0 635.4 1350.7 651.5 1354.0 665.0C1357.5 679.4 1363.0 694.2 1367.5 708.8C1369.0 705.8 1370.5 703.8 1372.0 700.0C1374.4 693.9 1376.2 682.0 1379.0 675.0C1381.2 669.5 1383.7 661.4 1386.4 661.0C1388.5 660.7 1391.1 664.8 1393.0 668.0C1395.9 672.8 1397.2 683.0 1400.0 688.0C1401.9 691.4 1404.2 693.2 1406.3 695.8C1408.9 690.6 1411.8 686.3 1414.0 680.0C1416.9 671.7 1418.7 660.0 1421.0 650.0C1423.3 640.0 1425.3 628.6 1428.0 620.0C1430.1 613.2 1432.1 606.4 1435.0 602.0C1437.1 598.8 1439.6 595.3 1442.2 595.0C1444.7 594.8 1447.4 598.3 1450.0 600.0C1452.6 601.7 1455.4 605.3 1458.0 605.0C1460.8 604.7 1463.6 600.3 1466.0 597.0C1469.0 593.0 1471.2 587.0 1474.0 582.0C1476.9 577.0 1479.4 570.7 1483.0 567.0C1486.0 563.9 1490.0 560.4 1493.4 560.5C1496.9 560.6 1500.7 564.7 1503.7 567.6C1506.8 570.7 1508.9 575.5 1511.7 578.8C1514.2 581.8 1516.8 584.8 1519.7 586.7C1522.4 588.4 1525.3 589.8 1528.4 590.1C1531.7 590.4 1535.5 589.4 1538.8 588.3C1542.1 587.2 1545.0 584.9 1548.3 583.6C1551.6 582.3 1555.4 580.6 1558.7 580.7C1561.8 580.8 1564.8 582.0 1567.5 583.6C1570.4 585.4 1572.9 588.4 1575.4 591.5C1578.3 595.1 1580.8 599.9 1583.4 604.3C1586.1 608.9 1588.7 614.0 1591.4 618.6C1594.0 623.0 1596.6 627.1 1599.3 631.4C1601.9 635.6 1604.6 640.0 1607.3 644.1C1609.9 648.0 1612.5 652.0 1615.3 655.3C1617.8 658.3 1620.5 660.8 1623.2 663.2C1625.8 665.5 1628.3 667.7 1631.2 669.6C1634.1 671.5 1637.3 673.2 1640.7 674.4C1644.2 675.7 1647.9 676.8 1651.9 677.1C1656.3 677.5 1661.3 676.6 1666.2 676.0C1671.4 675.4 1676.5 674.4 1682.2 673.6C1688.6 672.7 1695.6 671.6 1702.9 671.2C1711.1 670.7 1720.3 671.2 1729.0 671.2" stroke="#0000ff" stroke-width="10.4"/>
<path d="M556.0 829.0L556.5 833.0L557.1 829.0M598.2 879.1L599.1 883.0L599.8 879.1M644.0 786.9L645.4 790.7L646.2 786.8M680.3 636.2L681.7 639.9L682.5 636.0M723.2 581.5L724.0 585.4L724.5 581.5M764.7 607.2L765.1 611.2L765.4 607.2M802.1 560.7L802.6 564.7L803.1 560.7M837.4 566.6L837.8 570.6L838.6 566.7M868.9 640.3L870.0 644.1L870.7 640.2M893.5 437.3L895.1 433.6L896.4 429.8M924.7 295.9L927.3 292.9L928.5 289.1M978.7 286.4L980.0 290.2L981.4 286.5M1014.5 485.3L1015.6 489.2L1017.0 485.4M1043.9 668.3L1044.6 672.2L1045.1 668.3M1079.6 551.2L1080.9 555.0L1081.7 551.1M1109.2 572.9L1110.2 576.8L1110.7 572.8M1152.5 663.2L1152.8 667.2L1153.0 663.2M1188.3 580.2L1188.7 584.2L1189.2 580.2M1234.3 649.0L1235.6 652.8L1237.1 649.1M1318.7 831.0L1320.1 834.7L1321.3 830.9M1356.4 804.0L1357.9 807.8L1359.2 804.0M1515.1 757.5L1516.7 761.1L1518.4 757.5" stroke="#00ff00" stroke-width="10.4"/>
<path d="M188.8 671.4C195.4 671.4 201.6 671.9 208.7 671.4C217.1 670.8 226.8 669.1 235.8 667.5C244.8 665.9 253.7 663.7 262.8 661.9C272.2 660.0 282.4 658.7 291.5 656.3C299.9 654.1 308.2 650.7 315.4 648.3C321.3 646.3 327.0 644.1 331.4 642.8C334.5 641.9 336.8 641.1 339.3 640.7C341.5 640.4 343.4 640.1 345.7 640.4C348.6 640.8 352.2 641.6 355.3 643.6C359.2 646.2 362.9 652.0 366.4 656.3C369.8 660.5 372.9 665.1 376.0 669.0C378.7 672.5 381.0 675.6 383.9 678.6C386.8 681.7 390.4 687.5 393.5 687.4C396.7 687.3 400.2 681.2 403.0 677.0C406.2 672.1 408.0 664.3 411.0 659.5C413.4 655.6 416.1 652.4 419.0 649.9C421.5 647.8 424.7 645.4 426.9 645.2C428.4 645.1 429.5 645.7 431.0 646.7C433.7 648.6 437.7 653.5 440.5 657.9C443.7 662.9 445.9 670.0 448.5 675.4C450.7 680.0 452.1 684.3 454.9 688.2C457.9 692.3 461.8 698.4 466.0 699.3C469.9 700.1 474.6 696.3 478.8 694.5C483.1 692.6 487.6 690.4 491.5 688.2C495.0 686.2 498.3 684.1 501.1 681.8C503.6 679.8 505.4 678.1 507.5 675.4C510.3 671.7 512.9 665.6 515.4 661.1C517.6 657.1 519.4 652.4 521.8 649.9C523.5 648.1 525.9 645.8 527.4 646.4C529.6 647.3 530.1 655.7 531.4 661.1C533.0 667.7 534.8 675.3 536.1 683.4C537.6 693.0 538.2 704.7 539.3 715.3C540.4 725.9 540.8 735.2 542.5 747.1C544.7 762.5 549.5 784.4 552.0 800.0C553.9 812.3 555.0 822.0 556.5 833.0C558.0 822.0 559.6 811.5 561.0 800.0C562.5 787.3 563.3 772.1 565.0 760.0C566.4 749.8 568.6 741.6 570.1 731.9C571.7 721.6 572.7 709.8 574.0 700.0C575.1 691.7 576.4 677.0 577.5 677.0C579.1 677.0 580.5 703.4 582.0 720.0C584.0 742.5 585.8 775.3 588.0 800.0C589.9 821.4 591.6 844.8 594.0 860.0C595.5 869.5 597.4 875.3 599.1 883.0C601.1 872.0 603.4 863.1 605.0 850.0C607.4 831.1 608.3 802.4 610.0 780.0C611.6 759.2 613.3 739.1 615.0 720.0C616.6 702.6 617.9 683.8 620.0 670.0C621.5 660.2 623.7 644.9 625.3 645.0C627.1 645.1 628.6 667.3 630.0 680.0C631.6 695.2 632.6 714.3 634.0 730.0C635.3 744.1 635.5 759.0 638.0 770.0C639.8 778.2 642.9 783.8 645.4 790.7C647.4 781.7 649.9 773.8 651.3 763.7C653.0 750.9 652.9 736.8 653.8 720.0C655.0 697.3 655.5 659.8 657.5 640.0C658.7 628.2 659.4 618.6 662.0 612.0C663.6 607.9 666.2 602.8 668.0 603.0C670.3 603.3 671.8 614.1 674.0 620.0C676.4 626.4 679.1 633.3 681.7 639.9C683.8 630.0 686.4 620.0 688.0 610.0C689.6 600.0 690.0 591.7 691.3 580.0C693.1 563.4 695.6 537.3 698.0 520.0C699.9 506.7 701.2 492.2 704.0 485.0C705.4 481.4 707.4 477.4 708.8 477.6C711.1 478.0 712.5 490.7 714.0 500.0C716.4 515.1 716.8 544.3 719.0 560.0C720.4 570.3 722.3 576.9 724.0 585.4C726.0 570.3 728.3 557.3 730.0 540.0C732.2 517.1 733.1 484.2 735.0 460.0C736.5 439.9 737.5 418.3 740.0 405.0C741.4 397.2 743.5 386.8 745.1 386.9C746.9 387.0 748.6 400.4 750.0 410.0C752.2 425.3 753.5 448.0 755.0 470.0C756.9 497.0 758.0 534.2 760.0 560.0C761.5 579.5 763.4 594.1 765.1 611.2C766.7 594.1 768.6 580.3 770.0 560.0C772.1 530.3 773.2 482.5 775.0 450.0C776.4 424.0 777.3 397.8 779.5 380.0C780.9 368.8 782.8 353.0 784.5 353.0C786.3 353.0 788.5 372.4 790.0 385.0C792.1 402.8 793.1 427.2 794.5 450.0C796.0 475.3 796.7 508.9 798.5 530.0C799.7 544.0 801.2 553.1 802.6 564.7C803.7 556.4 804.9 550.6 806.0 540.0C807.9 521.0 809.0 482.8 811.0 460.0C812.5 442.8 813.8 425.4 816.0 415.0C817.2 409.3 818.9 401.9 820.2 402.0C821.9 402.1 823.6 415.3 825.0 425.0C827.3 441.1 828.0 467.2 830.0 490.0C832.2 515.4 835.2 543.7 837.8 570.6C838.6 567.1 839.2 564.8 840.0 560.0C841.5 550.2 842.7 524.8 845.0 515.0C846.2 510.0 847.6 504.0 849.0 504.0C850.6 504.0 852.5 513.1 854.0 520.0C856.6 532.0 858.1 552.6 860.0 570.0C862.1 589.1 863.5 617.0 866.0 630.0C867.2 636.4 868.7 639.4 870.0 644.1C872.4 629.4 875.1 616.9 877.0 600.0C879.5 577.3 880.1 545.8 882.0 520.0C883.8 495.9 884.2 465.0 888.0 450.0C889.9 442.4 892.8 439.1 895.1 433.6C900.1 419.1 906.7 404.8 910.0 390.0C913.3 375.3 913.2 360.0 915.0 345.0C916.8 330.0 917.2 308.3 921.0 300.0C922.7 296.2 925.2 295.3 927.3 292.9C930.6 281.9 934.5 272.2 937.0 260.0C940.0 245.2 940.8 225.5 943.0 210.0C944.9 196.4 946.7 181.9 949.0 172.0C950.5 165.5 951.8 159.4 954.0 156.0C955.4 153.9 957.3 151.7 958.7 152.0C960.4 152.3 961.8 156.5 963.0 160.0C965.0 165.9 965.8 175.4 967.0 185.0C968.6 197.8 969.7 215.0 971.0 230.0C972.3 245.0 972.8 264.1 975.0 275.0C976.3 281.5 978.3 285.1 980.0 290.2C981.3 286.8 982.7 284.4 984.0 280.0C986.2 272.7 988.1 250.0 990.0 250.0C992.2 250.1 994.3 275.3 996.0 290.0C998.1 307.9 999.4 329.4 1001.0 350.0C1002.7 371.7 1004.4 396.0 1006.0 417.0C1007.4 435.7 1007.6 456.8 1010.0 470.0C1011.5 478.1 1013.8 482.8 1015.6 489.2C1017.4 484.4 1019.2 480.0 1021.0 475.0C1022.9 469.6 1025.2 457.8 1026.8 458.0C1029.3 458.3 1030.5 483.7 1032.0 500.0C1034.1 522.4 1035.5 554.2 1037.0 580.0C1038.4 604.1 1039.2 633.2 1041.0 650.0C1042.0 659.5 1043.4 664.8 1044.6 672.2C1046.1 661.5 1047.8 653.2 1049.0 640.0C1050.9 619.3 1051.4 584.7 1053.0 560.0C1054.4 538.6 1055.2 514.5 1058.0 500.0C1059.6 491.4 1062.0 480.0 1064.0 480.0C1066.0 480.0 1068.2 492.1 1070.0 500.0C1072.5 511.0 1073.6 529.9 1076.0 540.0C1077.5 546.3 1079.2 550.0 1080.9 555.0C1083.2 543.4 1085.9 532.8 1088.0 520.0C1090.4 504.9 1091.7 470.1 1094.0 470.0C1095.8 469.9 1098.2 488.2 1100.0 500.0C1102.5 516.5 1103.6 546.2 1106.0 560.0C1107.3 567.4 1108.8 571.2 1110.2 576.8C1112.5 557.9 1115.1 540.6 1117.0 520.0C1119.2 495.6 1120.0 462.8 1122.0 440.0C1123.5 422.8 1124.7 406.3 1127.0 395.0C1128.4 387.9 1130.5 377.9 1132.0 378.0C1134.0 378.1 1135.5 397.2 1137.0 410.0C1139.1 428.8 1140.4 455.2 1142.0 480.0C1143.8 508.1 1145.2 539.4 1147.0 570.0C1148.8 601.8 1150.8 634.8 1152.8 667.2C1154.5 631.4 1156.3 596.0 1158.0 560.0C1159.7 523.6 1160.8 478.6 1163.0 450.0C1164.4 431.7 1165.0 412.3 1168.0 405.0C1169.1 402.2 1170.9 399.7 1172.0 400.0C1174.9 400.8 1175.4 424.4 1177.0 440.0C1179.2 462.1 1180.9 494.8 1183.0 520.0C1184.8 542.6 1186.8 562.8 1188.7 584.2C1190.5 569.4 1192.2 556.4 1194.0 540.0C1196.3 519.4 1197.7 485.6 1201.0 470.0C1202.7 461.9 1205.2 451.9 1207.0 452.0C1209.3 452.1 1211.2 468.2 1213.0 480.0C1216.0 499.8 1217.4 534.2 1220.0 560.0C1222.4 584.1 1224.3 613.2 1228.0 630.0C1230.2 639.8 1233.1 645.2 1235.6 652.8C1237.4 648.5 1239.1 643.7 1241.0 640.0C1242.6 637.0 1244.4 631.8 1246.0 632.0C1248.2 632.3 1250.2 643.2 1252.0 650.0C1254.3 658.7 1255.9 669.6 1258.0 680.0C1260.2 691.2 1262.7 703.3 1265.0 715.0C1267.3 726.7 1269.6 738.1 1272.0 750.0C1274.5 762.4 1277.0 777.8 1280.0 788.0C1282.1 795.2 1283.7 804.7 1287.0 806.0C1289.2 806.9 1292.4 803.6 1295.0 802.0C1297.7 800.3 1300.6 795.5 1303.0 796.0C1305.8 796.6 1307.7 803.1 1310.0 808.0C1313.4 815.0 1316.7 825.8 1320.1 834.7C1322.7 826.5 1325.4 818.3 1328.0 810.0C1330.7 801.7 1331.8 790.1 1336.0 785.0C1338.9 781.5 1344.1 778.0 1346.9 779.0C1350.1 780.2 1351.1 790.0 1353.0 795.0C1354.7 799.5 1356.2 803.5 1357.9 807.8C1359.9 801.8 1362.2 796.8 1364.0 790.0C1366.3 781.4 1367.8 770.4 1370.0 760.0C1372.4 748.8 1374.2 732.9 1378.0 725.0C1380.3 720.3 1382.9 717.2 1386.0 715.0C1388.7 713.1 1392.3 711.4 1395.0 712.0C1398.0 712.7 1400.7 716.7 1403.0 720.0C1405.8 724.0 1408.0 730.4 1410.0 735.0C1411.7 738.9 1412.5 745.6 1414.6 746.0C1416.6 746.4 1419.2 740.3 1422.0 738.0C1424.9 735.6 1428.5 734.4 1432.0 732.0C1436.1 729.2 1441.2 726.2 1445.0 722.0C1449.3 717.4 1452.8 711.4 1456.0 705.0C1459.6 697.7 1461.8 687.2 1465.0 680.0C1467.5 674.3 1469.7 668.4 1473.0 665.0C1475.5 662.4 1479.0 659.4 1481.5 660.0C1484.5 660.7 1486.8 667.0 1489.0 672.0C1492.2 679.2 1494.5 690.1 1497.0 700.0C1499.8 711.0 1501.4 724.3 1505.0 735.0C1508.2 744.5 1512.8 752.4 1516.7 761.1C1518.5 757.4 1520.3 754.9 1522.0 750.0C1524.9 741.7 1527.0 726.6 1530.0 715.0C1533.0 703.3 1536.5 691.0 1540.0 680.0C1543.2 670.1 1546.1 659.7 1550.0 652.0C1553.0 646.0 1556.1 640.5 1560.0 637.0C1563.2 634.1 1567.3 631.6 1570.6 631.4C1573.4 631.2 1576.1 632.9 1578.6 634.5C1581.5 636.4 1584.0 639.6 1586.6 642.5C1589.3 645.5 1591.9 648.7 1594.5 652.1C1597.2 655.6 1599.8 659.7 1602.5 663.2C1605.1 666.6 1607.8 669.8 1610.5 672.8C1613.1 675.6 1615.5 678.3 1618.4 680.7C1621.3 683.1 1624.7 685.7 1628.0 687.1C1631.1 688.4 1634.2 688.9 1637.6 689.0C1641.5 689.1 1646.1 687.9 1650.3 687.1C1654.6 686.2 1658.5 685.0 1663.0 683.9C1668.0 682.6 1673.7 681.1 1679.0 679.9C1684.3 678.7 1689.6 677.7 1694.9 676.8C1700.2 675.9 1705.3 675.1 1710.8 674.7C1716.6 674.3 1722.9 674.7 1729.0 674.7" stroke="#00ff00" stroke-width="10.4" stroke-dasharray="38.00 18.90" stroke-linecap="square"/>
<path d="M603.6 790.6L604.8 794.5L606.1 790.7M642.3 651.4L644.6 654.7L646.4 651.1M681.7 633.9L683.7 637.4L684.4 633.4M722.7 532.5L724.1 536.2L725.0 532.3M768.5 580.2L768.9 584.2L769.2 580.2M801.8 558.6L802.3 562.5L802.8 558.6M866.2 586.6L867.9 590.2L868.6 586.3M899.6 416.3L901.4 419.9L902.4 416.0M979.2 258.6L980.3 262.5L982.1 259.0M1016.2 500.6L1017.0 504.6L1018.2 500.7M1039.2 558.4L1040.6 562.1L1041.9 558.3M1079.9 506.8L1081.7 510.4L1082.6 506.5M1109.6 528.8L1110.3 532.7L1111.0 528.8M1151.5 578.5L1152.1 582.5L1152.5 578.5M1189.0 543.8L1189.9 547.7L1190.8 543.8M1233.6 632.2L1234.7 636.1L1236.9 632.7M1286.9 794.3L1289.0 797.7L1291.1 794.3M1320.0 813.0L1321.7 816.7L1322.6 812.8M1417.3 703.6L1419.1 707.1L1420.6 703.5M1507.2 730.2L1508.5 734.0L1510.3 730.5" stroke="#cc00cc" stroke-width="10.4"/>
<path d="M188.8 608.9C193.8 608.9 198.3 609.4 203.9 608.9C211.0 608.3 220.2 606.6 227.8 604.9C235.0 603.3 241.2 601.8 248.5 599.3C257.0 596.4 268.0 592.7 275.6 588.2C281.9 584.5 286.4 580.2 291.5 575.4C297.0 570.2 302.6 563.7 307.5 557.9C312.1 552.6 316.0 547.0 320.2 542.0C324.0 537.5 327.7 533.0 331.4 529.2C334.6 525.9 337.9 522.3 340.9 520.5C343.1 519.2 345.2 518.4 347.3 518.4C349.4 518.4 351.7 519.2 353.7 520.5C356.0 522.0 358.1 524.6 360.0 527.6C362.5 531.4 364.6 537.0 366.4 542.0C368.3 547.1 369.5 552.1 371.2 557.9C373.2 564.7 376.0 573.0 377.6 580.2C379.1 586.8 379.5 592.6 380.7 599.3C382.1 606.8 384.6 616.5 385.5 623.2C386.2 628.0 385.8 630.1 386.4 635.6C387.7 646.4 391.3 673.2 394.3 683.4C395.8 688.5 397.4 691.7 399.1 694.5C400.4 696.5 401.7 699.3 403.1 699.3C404.7 699.3 406.5 695.5 407.9 692.9C409.6 689.5 410.6 684.7 411.9 680.2C413.3 675.2 414.6 670.0 415.8 664.3C417.2 657.9 418.3 650.5 419.8 643.6C421.3 636.7 422.8 629.0 424.6 622.8C426.1 617.5 427.3 612.3 429.4 608.5C431.0 605.5 432.6 602.8 435.0 601.3C437.4 599.9 440.8 598.8 443.7 599.7C447.5 600.9 451.5 606.8 454.9 610.9C458.4 615.2 461.4 620.6 464.4 625.2C467.1 629.4 469.9 632.9 472.1 637.2C474.4 641.7 476.2 646.6 478.0 651.5C479.9 656.6 481.5 662.2 483.2 667.5C484.9 672.8 486.4 678.0 488.3 683.4C490.3 689.1 492.4 695.6 494.7 700.9C496.7 705.6 498.9 710.4 501.1 713.7C502.7 716.0 504.5 719.4 505.9 719.2C507.7 718.9 509.3 713.3 510.6 708.9C512.8 701.8 513.8 689.5 515.4 680.2C517.0 671.4 518.7 662.2 520.2 654.7C521.4 648.8 522.0 643.8 523.4 638.8C524.7 634.2 526.5 628.3 528.2 626.0C529.0 624.9 529.7 624.0 530.6 624.1C532.5 624.4 535.8 630.2 537.7 634.0C539.8 638.2 541.0 643.2 542.5 648.3C544.2 654.2 545.6 661.4 547.3 667.5C548.8 673.1 550.4 678.6 552.1 683.4C553.6 687.5 555.1 692.0 556.8 694.5C557.8 696.0 558.9 697.9 560.0 697.7C562.0 697.3 564.4 687.7 566.4 683.4C568.1 679.9 568.9 675.9 571.2 673.8C573.3 671.9 577.0 669.7 579.2 670.6C582.3 671.9 583.8 680.4 585.5 686.6C587.7 694.7 589.1 707.0 590.3 715.3C591.2 721.6 591.7 725.5 592.4 731.9C593.4 740.8 593.5 753.3 595.6 763.7C597.7 774.1 601.7 784.2 604.8 794.5C606.5 789.5 608.6 785.7 609.9 779.7C611.8 771.2 612.2 759.6 613.1 747.8C614.2 733.3 614.5 712.6 615.8 699.3C616.7 689.9 617.9 683.1 619.0 675.4C620.0 668.2 620.6 660.7 622.2 654.7C623.5 649.9 624.6 644.8 626.9 642.0C628.6 639.9 631.1 637.5 633.3 638.0C636.9 638.8 640.8 649.1 644.6 654.7C647.7 648.3 651.9 642.5 654.0 635.6C656.2 628.2 655.7 619.0 657.2 611.7C658.5 605.4 659.5 596.9 662.0 594.2C663.3 592.8 665.3 592.0 666.8 592.6C669.2 593.5 671.4 599.1 673.1 603.7C675.5 610.0 675.6 621.5 677.9 627.6C679.5 631.7 681.8 634.1 683.7 637.4C688.5 611.6 693.5 584.9 698.0 560.0C702.2 536.8 705.9 492.9 710.0 492.7C712.6 492.6 715.4 512.1 718.0 520.0C720.1 526.2 722.1 530.8 724.1 536.2C726.8 524.2 730.0 513.3 732.0 500.0C734.4 484.2 734.5 463.6 736.4 447.6C738.0 434.0 739.4 420.5 742.0 410.0C743.9 402.2 746.9 389.9 748.9 390.0C751.3 390.2 753.4 408.7 755.0 420.0C757.0 434.5 757.7 453.1 759.0 470.0C760.3 487.3 761.0 504.5 762.6 522.7C764.3 542.4 766.8 563.7 768.9 584.2C770.9 562.8 773.3 543.8 775.0 520.0C777.2 490.4 777.5 448.3 780.0 420.0C781.9 398.9 784.9 365.0 787.0 365.0C789.3 365.0 791.4 406.6 793.0 430.0C794.9 457.5 794.9 495.6 797.0 520.0C798.4 536.8 800.5 548.4 802.3 562.5C804.2 548.4 806.4 536.4 808.0 520.0C810.2 497.5 810.3 461.8 813.0 440.0C814.9 424.7 817.7 401.3 820.2 401.3C822.7 401.3 825.9 427.0 828.0 440.0C830.1 453.2 831.3 467.6 833.0 480.0C834.5 490.7 835.4 501.1 837.7 510.0C839.6 517.4 842.3 523.9 845.0 530.0C847.4 535.5 850.6 539.0 853.0 545.0C856.2 553.1 858.1 566.8 861.0 575.0C863.2 581.0 865.6 585.1 867.9 590.2C870.5 575.8 873.8 562.5 875.8 547.0C878.1 529.4 878.4 508.8 880.0 490.0C881.6 471.6 883.1 449.4 885.3 435.6C886.7 427.0 887.6 419.7 890.0 415.0C891.5 412.0 894.0 408.3 895.7 408.5C897.8 408.8 899.5 416.1 901.4 419.9C903.6 411.6 906.4 403.5 908.0 395.0C909.6 386.2 909.9 378.2 910.8 367.7C912.0 353.5 912.3 333.1 913.8 317.6C915.1 304.1 915.9 288.7 918.8 280.0C920.5 275.0 923.2 268.7 925.0 268.8C926.8 268.9 927.6 278.8 929.5 281.0C930.5 282.2 932.0 283.4 933.0 283.0C935.1 282.1 935.8 271.8 937.0 265.0C938.5 256.3 939.6 245.7 941.0 235.0C942.6 222.6 944.1 207.0 946.0 195.0C947.5 185.1 949.2 175.3 951.0 168.0C952.3 162.8 953.2 157.7 955.0 155.0C956.1 153.4 957.5 151.8 958.7 152.0C960.5 152.3 962.5 156.3 964.0 160.0C966.6 166.6 967.5 178.7 969.0 190.0C970.9 204.5 971.5 226.7 974.0 240.0C975.7 249.1 978.2 255.0 980.3 262.5C983.5 256.3 987.5 243.6 990.0 244.0C993.7 244.7 994.3 273.6 996.0 290.0C998.0 308.7 999.4 329.4 1001.0 350.0C1002.7 371.7 1004.4 396.0 1006.0 417.0C1007.4 435.7 1007.8 454.3 1010.0 470.0C1011.8 482.8 1014.7 493.0 1017.0 504.6C1018.0 501.4 1018.9 498.4 1020.0 495.0C1021.3 491.2 1023.0 482.9 1024.4 483.0C1026.4 483.1 1028.2 500.1 1030.0 510.0C1032.1 522.0 1033.5 540.6 1036.0 550.0C1037.4 555.3 1039.1 558.1 1040.6 562.1C1043.1 554.7 1045.8 548.5 1048.0 540.0C1050.8 528.7 1052.7 512.4 1055.0 500.0C1057.0 489.3 1058.0 476.9 1061.0 470.0C1062.8 465.9 1065.5 460.7 1067.4 461.0C1070.0 461.4 1072.1 473.2 1074.0 480.0C1076.1 487.7 1077.2 499.8 1079.0 505.0C1079.9 507.5 1080.8 508.6 1081.7 510.4C1084.1 500.3 1086.3 489.6 1089.0 480.0C1091.5 471.2 1094.7 454.8 1097.0 455.0C1100.0 455.2 1101.6 486.2 1104.0 500.0C1106.1 511.8 1108.2 521.8 1110.3 532.7C1112.2 521.8 1114.4 512.6 1116.0 500.0C1118.2 483.1 1119.2 458.6 1121.0 440.0C1122.6 423.9 1123.9 407.3 1126.0 395.0C1127.5 386.2 1129.5 372.7 1131.2 372.7C1133.1 372.7 1135.4 388.7 1137.0 400.0C1139.5 417.9 1140.4 445.9 1142.0 470.0C1143.7 495.8 1144.7 529.3 1147.0 550.0C1148.4 563.3 1150.4 571.7 1152.1 582.5C1154.0 565.0 1156.3 548.8 1158.0 530.0C1160.0 508.4 1160.7 479.3 1163.0 460.0C1164.7 446.3 1166.8 425.0 1169.0 425.0C1171.2 425.0 1173.9 446.7 1176.0 460.0C1178.7 477.3 1180.1 503.9 1183.0 520.0C1185.0 531.1 1187.6 538.5 1189.9 547.7C1192.0 538.5 1194.3 530.1 1196.0 520.0C1198.1 507.9 1198.7 491.0 1201.0 480.0C1202.7 472.1 1205.0 459.9 1207.0 460.0C1209.4 460.1 1212.0 478.2 1214.0 490.0C1216.7 506.5 1217.8 530.0 1220.0 550.0C1222.2 570.0 1223.8 594.2 1227.0 610.0C1229.2 620.6 1232.2 627.4 1234.7 636.1C1237.5 631.7 1240.6 622.7 1243.0 623.0C1245.9 623.4 1247.8 637.1 1250.0 645.0C1252.5 654.2 1254.7 665.3 1257.0 675.0C1259.2 684.2 1261.5 691.9 1263.7 702.0C1266.5 714.6 1269.1 730.9 1272.0 745.0C1274.8 758.6 1277.1 775.6 1281.0 785.0C1283.3 790.7 1286.3 793.5 1289.0 797.7C1291.7 793.5 1294.5 789.2 1297.0 785.0C1299.4 781.0 1301.8 772.8 1304.0 773.0C1306.9 773.3 1309.1 787.7 1312.0 795.0C1315.0 802.3 1318.4 809.5 1321.7 816.7C1324.8 804.5 1328.4 793.3 1331.0 780.0C1334.0 764.7 1335.5 745.7 1338.0 730.0C1340.2 715.9 1341.6 699.9 1345.0 690.0C1347.2 683.6 1349.7 678.4 1353.0 675.0C1355.6 672.4 1358.9 671.8 1362.0 670.0C1365.3 668.1 1369.3 667.4 1372.0 664.0C1376.0 659.0 1377.0 648.2 1380.0 640.0C1383.3 631.2 1387.6 613.0 1391.0 613.0C1393.9 613.0 1396.6 624.6 1399.0 632.0C1402.2 641.8 1404.6 656.0 1407.0 667.0C1409.2 676.8 1410.4 687.7 1413.0 695.0C1414.8 700.0 1417.0 703.1 1419.1 707.1C1421.4 701.8 1424.0 697.6 1426.0 691.0C1428.9 681.5 1430.5 666.9 1433.0 655.0C1435.5 643.2 1437.9 630.6 1441.0 620.0C1443.7 610.9 1445.8 600.9 1450.0 595.0C1453.1 590.7 1457.7 585.8 1461.3 586.0C1465.0 586.2 1468.7 592.4 1472.0 597.0C1476.2 602.8 1480.7 610.5 1483.6 619.0C1487.1 629.3 1488.0 642.5 1490.0 655.0C1492.2 668.4 1492.8 683.6 1496.0 697.0C1499.1 709.9 1504.3 721.7 1508.5 734.0C1510.0 731.0 1511.7 729.4 1513.0 725.0C1516.1 714.7 1517.5 688.7 1519.7 671.0C1521.8 653.8 1523.8 636.4 1526.0 620.0C1528.1 604.7 1530.2 590.0 1532.4 575.6C1534.5 562.0 1536.2 546.6 1538.8 535.8C1540.7 528.2 1542.3 522.1 1545.2 516.6C1547.8 511.7 1551.1 506.3 1554.7 503.9C1557.4 502.1 1560.6 501.3 1563.5 501.5C1566.5 501.7 1569.6 503.4 1572.2 505.5C1575.3 508.1 1577.7 512.5 1580.2 516.6C1583.1 521.3 1585.7 526.9 1588.2 532.6C1591.0 539.0 1593.5 546.3 1596.1 553.3C1598.8 560.6 1601.3 568.5 1604.1 575.6C1606.7 582.2 1609.4 588.5 1612.1 594.7C1614.7 600.7 1617.1 607.1 1620.0 612.2C1622.5 616.5 1625.1 620.3 1628.0 623.4C1630.5 626.0 1633.2 628.5 1636.0 629.8C1638.5 631.0 1641.0 631.4 1643.9 631.4C1647.3 631.4 1651.4 630.2 1655.1 629.0C1658.9 627.8 1662.1 625.9 1666.2 624.2C1671.0 622.2 1676.8 619.5 1682.2 617.8C1687.5 616.1 1692.8 614.8 1698.1 613.8C1703.4 612.8 1708.8 612.2 1714.0 611.9C1719.1 611.6 1724.0 611.9 1729.0 611.9" stroke="#cc00cc" stroke-width="10.4" stroke-dasharray="38.00 18.90 9.60 18.90 9.60 18.90" stroke-linecap="square"/>
<path d="M188.8 649.9C196.5 649.9 204.5 651.0 211.9 649.9C219.1 648.8 225.9 646.3 232.6 643.6C239.2 641.0 245.6 637.7 251.7 634.0C257.8 630.3 263.8 625.7 269.2 621.3C274.3 617.2 278.8 612.8 283.6 608.5C288.4 604.3 293.1 599.2 297.9 595.8C302.1 592.8 306.1 590.1 310.6 588.6C314.9 587.1 319.9 586.0 324.2 586.5C328.4 586.9 332.3 588.6 336.1 591.0C340.6 593.9 345.0 599.0 348.9 603.7C353.0 608.6 356.5 615.1 360.0 619.7C362.8 623.4 365.4 627.1 368.0 629.2C369.9 630.7 371.7 632.4 373.6 632.1C376.0 631.7 378.6 627.9 380.7 624.4C383.8 619.4 386.1 610.9 388.7 603.7C391.5 596.0 393.6 587.0 396.7 579.8C399.5 573.4 402.7 566.5 406.2 562.3C408.7 559.3 411.6 557.0 414.2 555.9C416.1 555.1 417.9 554.6 419.8 555.1C422.5 555.9 425.9 558.9 428.5 562.3C432.2 567.2 434.9 576.1 438.1 583.0C441.3 589.9 444.2 597.8 447.7 603.7C450.6 608.6 453.7 613.2 457.2 616.5C460.2 619.3 464.2 620.7 466.8 622.8C468.9 624.4 470.1 625.6 471.9 627.6C474.4 630.5 477.4 634.4 479.8 638.8C482.8 644.2 485.2 651.3 487.8 657.9C490.6 665.0 493.1 673.9 495.8 680.2C497.9 685.1 499.9 690.5 502.1 692.9C503.4 694.3 504.6 695.5 506.1 695.3C508.2 695.0 511.0 691.0 513.3 688.2C516.0 685.0 518.4 679.9 521.3 677.0C523.8 674.6 526.3 672.6 529.2 671.4C532.1 670.2 535.6 670.4 538.8 669.8C542.0 669.1 545.7 669.2 548.3 667.5C551.0 665.8 552.6 662.8 554.7 659.5C557.5 654.9 560.0 647.7 562.7 642.0C565.3 636.5 567.8 630.1 570.6 626.0C572.6 623.0 575.1 620.1 577.0 618.9C578.0 618.3 578.9 617.7 579.9 618.1C582.0 618.9 584.7 624.7 586.6 629.2C589.2 635.2 590.7 644.2 592.9 651.5C595.0 658.5 596.7 667.8 599.3 672.2C600.8 674.7 602.6 677.6 604.1 677.3C606.5 676.8 608.7 667.2 610.5 661.1C612.7 653.6 613.7 644.2 615.3 635.6C616.9 626.7 618.1 616.0 620.0 608.5C621.4 602.9 622.8 597.1 624.8 594.2C626.0 592.5 627.5 590.8 628.8 591.0C630.6 591.3 632.4 596.4 634.4 598.9C636.4 601.4 639.0 604.8 640.7 606.1C641.6 606.8 642.2 607.4 643.1 607.2C644.8 606.7 647.1 602.4 648.7 598.9C650.9 594.0 651.8 585.9 653.5 579.8C655.0 574.2 656.3 568.0 658.3 563.9C659.7 561.1 661.4 558.3 663.0 557.2C664.0 556.5 665.1 556.0 666.2 556.4C667.8 556.9 669.4 560.2 671.0 562.3C672.7 564.5 674.0 568.1 675.8 569.5C677.0 570.5 678.7 571.6 679.8 571.1C681.6 570.2 681.9 564.2 683.0 559.9C684.5 554.1 686.0 546.3 687.8 539.2C689.7 531.5 691.9 522.6 694.2 515.3C696.2 508.9 697.4 501.5 700.5 497.7C702.7 495.0 706.2 492.1 708.5 492.6C711.1 493.2 713.0 498.4 714.9 502.5C717.5 508.0 718.8 517.7 721.3 523.2C723.1 527.3 725.3 529.8 727.3 533.2C729.5 528.8 732.2 525.4 734.0 520.0C736.5 512.4 737.0 500.0 738.8 491.4C740.3 484.3 741.1 476.4 743.6 472.2C745.2 469.5 747.9 466.3 749.6 466.7C751.8 467.2 753.2 473.9 754.7 478.6C756.7 485.1 757.4 495.9 759.5 502.5C761.1 507.4 763.2 510.8 765.1 515.0C766.9 507.1 769.2 500.3 770.6 491.4C772.4 479.9 772.7 464.8 773.8 451.5C774.9 438.2 775.9 424.2 777.0 411.7C778.0 400.5 778.9 388.8 780.2 379.8C781.2 373.1 781.6 365.5 783.4 362.3C784.3 360.7 785.6 359.2 786.6 359.4C788.4 359.8 790.1 366.7 791.4 371.9C793.4 380.0 794.1 392.0 795.3 403.7C796.8 418.0 798.1 436.3 799.3 451.5C800.4 465.4 801.4 478.9 802.5 491.4C803.5 502.6 804.1 516.8 805.7 523.2C806.4 526.2 807.4 527.3 808.3 529.4C810.1 523.6 812.2 518.1 813.7 512.1C815.3 505.9 815.6 496.3 817.6 492.9C818.5 491.3 819.8 489.9 820.8 490.1C822.3 490.4 823.6 495.3 824.8 499.3C826.8 506.1 828.1 518.9 829.6 528.0C831.0 536.3 832.3 545.0 833.6 551.9C834.6 557.3 835.7 561.4 836.7 566.1C838.0 559.8 839.4 554.1 840.7 547.1C842.3 538.5 843.2 525.3 845.5 518.4C846.9 514.2 848.4 510.5 850.3 508.9C851.5 507.9 852.8 507.4 854.3 507.6C856.7 508.0 860.3 511.8 863.0 513.7C865.3 515.4 867.3 516.8 869.4 518.4C871.5 520.0 873.6 520.9 875.8 523.2C879.3 526.8 883.2 534.0 886.9 539.4C889.6 535.6 892.6 533.2 894.9 528.0C898.6 519.5 900.3 503.9 902.9 491.4C905.6 478.4 908.3 465.4 910.8 451.5C913.6 436.3 916.0 418.9 918.8 403.7C921.4 389.8 924.3 379.0 926.8 363.9C930.0 344.2 933.5 313.9 935.6 295.3C937.0 282.7 937.7 274.0 938.8 263.4C939.9 252.8 940.9 241.8 942.0 231.5C943.0 221.7 944.1 211.8 945.2 202.8C946.2 194.9 947.1 187.3 948.3 180.5C949.3 174.7 950.3 169.2 951.5 164.6C952.5 161.0 953.2 157.4 954.7 155.1C955.8 153.4 957.4 151.3 958.7 151.4C960.1 151.5 961.6 154.3 962.7 156.6C964.3 159.8 964.9 164.8 965.9 169.4C967.0 174.8 968.0 180.9 969.0 186.9C970.1 193.1 971.1 199.8 972.2 206.0C973.2 212.0 974.3 218.0 975.4 223.6C976.4 228.6 976.8 234.9 978.6 237.9C979.7 239.7 981.2 241.2 982.6 241.4C983.9 241.6 985.2 240.2 986.6 239.5C988.1 238.8 990.0 236.6 991.4 237.1C993.4 237.8 994.8 243.6 996.1 247.5C997.6 252.2 998.3 257.5 999.3 263.4C1000.5 270.5 1001.6 278.7 1002.5 287.3C1003.5 297.2 1004.1 308.2 1004.9 319.2C1005.7 331.0 1006.5 341.0 1007.2 355.9C1008.3 378.9 1009.0 420.1 1010.1 443.6C1010.8 459.5 1011.7 470.9 1012.5 483.4C1013.3 494.6 1014.0 505.4 1014.9 515.3C1015.7 523.8 1016.5 531.5 1017.3 539.2C1018.1 546.4 1018.0 555.8 1019.7 559.9C1020.5 561.9 1021.7 563.8 1022.8 563.8C1024.1 563.8 1025.6 558.0 1027.0 558.1C1028.6 558.2 1030.3 562.9 1031.6 566.2C1033.3 570.5 1033.8 577.2 1035.6 582.2C1037.3 587.0 1039.7 591.3 1041.8 595.9C1043.2 593.4 1044.6 591.3 1045.9 588.5C1047.5 585.0 1048.4 579.9 1050.1 576.4C1051.5 573.4 1052.7 570.1 1054.9 568.5C1057.0 567.0 1060.6 568.4 1062.8 566.9C1065.5 565.1 1067.2 560.3 1069.2 557.3C1070.9 554.8 1072.0 551.9 1073.8 550.3C1075.3 549.0 1076.9 548.7 1078.8 547.8C1081.1 546.6 1084.6 546.1 1086.6 543.9C1089.1 541.1 1090.0 536.2 1091.4 531.2C1093.3 524.5 1094.5 515.3 1096.1 507.3C1097.7 499.3 1099.3 491.2 1100.9 483.4C1102.5 475.8 1104.0 468.2 1105.7 461.1C1107.2 454.5 1108.9 448.2 1110.5 442.0C1112.1 436.0 1113.6 429.9 1115.3 424.4C1116.8 419.4 1118.3 414.3 1120.0 410.1C1121.5 406.5 1122.9 402.5 1124.8 400.5C1126.0 399.2 1127.6 397.8 1128.8 398.2C1130.5 398.7 1131.6 403.1 1132.8 406.9C1134.9 413.6 1136.1 425.2 1137.6 435.6C1139.3 447.8 1141.0 462.4 1142.3 475.4C1143.6 487.9 1143.8 501.0 1145.5 512.1C1147.0 521.6 1149.4 529.4 1151.4 538.1C1152.1 535.8 1152.9 534.5 1153.5 531.2C1155.0 523.5 1155.6 503.9 1156.7 491.4C1157.7 480.2 1158.7 469.0 1159.9 459.5C1160.9 451.8 1161.7 444.3 1163.0 438.8C1163.9 434.9 1164.7 430.8 1166.2 429.2C1167.0 428.3 1168.2 427.6 1169.1 427.9C1170.5 428.4 1171.6 432.4 1172.6 435.6C1174.1 440.5 1174.8 447.9 1175.8 454.7C1177.0 462.6 1177.9 471.8 1179.0 480.2C1180.1 488.3 1180.4 496.6 1182.2 504.1C1183.9 511.2 1187.0 517.5 1189.4 524.2C1190.7 521.2 1192.1 519.2 1193.3 515.3C1195.3 508.5 1196.3 495.0 1198.1 486.6C1199.6 480.0 1200.6 472.7 1202.9 469.0C1204.3 466.8 1206.2 464.4 1207.7 464.6C1209.4 464.8 1211.0 469.0 1212.4 472.2C1214.4 477.0 1215.7 484.4 1217.2 491.4C1219.0 499.6 1220.4 509.4 1222.0 518.4C1223.6 527.4 1225.0 537.5 1226.8 545.5C1228.3 552.0 1229.6 558.9 1231.6 563.0C1232.8 565.6 1234.4 568.8 1235.8 568.7C1237.6 568.6 1239.8 562.8 1241.4 558.8C1243.5 553.6 1244.5 545.6 1246.2 539.7C1247.7 534.5 1249.0 528.8 1251.0 525.3C1252.4 522.8 1254.4 520.5 1255.8 519.7C1256.5 519.3 1257.0 519.0 1257.7 519.3C1259.4 520.1 1262.1 525.5 1263.7 530.1C1266.2 537.2 1267.0 548.6 1268.5 558.8C1270.2 570.2 1271.6 583.6 1273.3 595.4C1274.8 606.4 1276.2 619.1 1278.1 627.3C1279.3 632.5 1280.4 637.3 1282.0 640.0C1283.0 641.6 1284.2 643.4 1285.2 643.2C1286.8 642.8 1288.0 636.6 1289.2 632.1C1291.0 625.7 1292.4 615.4 1294.0 608.2C1295.3 602.3 1296.0 596.0 1298.0 592.2C1299.3 589.7 1301.2 586.6 1302.8 586.7C1304.7 586.8 1306.8 591.6 1308.3 595.4C1310.6 601.2 1311.6 610.7 1313.1 619.3C1314.8 629.1 1316.3 640.6 1317.9 651.2C1319.5 661.8 1321.5 673.6 1322.7 683.0C1323.6 690.4 1323.1 697.5 1324.6 702.8C1325.7 706.7 1328.0 710.5 1329.4 712.4C1330.1 713.4 1330.6 714.4 1331.3 714.3C1332.8 714.1 1335.3 707.5 1337.4 704.4C1339.4 701.6 1341.3 698.2 1343.7 696.5C1345.7 695.1 1347.9 694.6 1350.1 694.1C1352.2 693.6 1354.5 694.1 1356.5 693.3C1358.7 692.4 1360.9 690.8 1362.8 688.5C1365.3 685.5 1367.1 679.4 1369.2 675.8C1370.8 673.0 1372.2 670.0 1374.0 668.6C1375.2 667.7 1376.7 666.9 1378.0 667.3C1380.0 668.0 1382.1 672.2 1383.6 675.8C1385.8 681.0 1386.8 689.1 1388.3 696.5C1390.0 704.9 1391.6 714.2 1393.1 723.6C1394.8 733.8 1396.3 744.8 1397.9 755.4C1399.5 766.0 1400.4 777.5 1402.7 787.3C1404.7 796.0 1407.8 803.4 1410.4 811.4C1411.5 808.7 1412.8 806.9 1413.8 803.2C1415.8 796.1 1417.0 782.0 1418.6 771.4C1420.2 760.8 1421.7 749.3 1423.4 739.5C1424.9 730.9 1426.4 723.5 1428.2 715.6C1430.1 707.6 1432.2 698.5 1434.5 691.7C1436.2 686.5 1437.9 683.2 1440.0 678.2C1442.7 671.7 1446.4 663.3 1449.6 656.0C1452.7 649.0 1455.8 641.8 1459.1 635.3C1462.2 629.3 1465.3 623.3 1468.7 618.3C1471.7 613.9 1474.8 609.9 1478.2 606.7C1481.2 603.8 1484.6 601.8 1487.8 599.5C1491.0 597.3 1494.3 595.6 1497.4 593.1C1500.7 590.4 1503.8 587.0 1506.9 583.6C1510.2 580.1 1513.3 576.1 1516.5 572.4C1519.7 568.7 1522.6 564.4 1526.0 561.3C1529.0 558.4 1532.2 555.7 1535.6 554.1C1538.8 552.6 1542.6 551.5 1545.9 551.7C1549.0 551.9 1551.8 553.3 1554.7 554.9C1558.0 556.8 1561.3 559.6 1564.3 562.8C1567.7 566.4 1570.7 571.0 1573.8 575.6C1577.1 580.5 1580.2 586.2 1583.4 591.5C1586.6 596.8 1589.7 602.4 1592.9 607.5C1596.0 612.4 1599.2 617.2 1602.5 621.8C1605.6 626.2 1608.8 630.7 1612.1 634.5C1615.2 638.0 1618.4 641.1 1621.6 644.1C1624.7 647.0 1627.9 649.9 1631.2 652.1C1634.3 654.1 1637.5 655.6 1640.7 656.8C1643.8 658.0 1646.9 658.7 1650.3 659.2C1654.2 659.8 1658.5 660.1 1663.0 660.0C1668.0 659.9 1673.7 658.9 1679.0 658.4C1684.3 657.9 1689.6 657.3 1694.9 656.8C1700.2 656.3 1705.3 655.6 1710.8 655.3C1716.7 655.0 1722.9 655.3 1729.0 655.3" stroke="#ff0000" stroke-width="10.4"/>
</g>
<g stroke="#262626" stroke-width="2.9" fill="none" stroke-linecap="butt">
<rect x="188.5" y="122.5" width="1540.6" height="1213.9"/>
<line x1="1729.1" y1="121.1" x2="1729.1" y2="1337.9" stroke-width="3.8"/>
<line x1="274.4" y1="1336.4" x2="274.4" y2="1319.1"/><line x1="274.4" y1="122.5" x2="274.4" y2="139.8"/>
<line x1="445.5" y1="1336.4" x2="445.5" y2="1319.1"/><line x1="445.5" y1="122.5" x2="445.5" y2="139.8"/>
<line x1="616.6" y1="1336.4" x2="616.6" y2="1319.1"/><line x1="616.6" y1="122.5" x2="616.6" y2="139.8"/>
<line x1="787.8" y1="1336.4" x2="787.8" y2="1319.1"/><line x1="787.8" y1="122.5" x2="787.8" y2="139.8"/>
<line x1="958.9" y1="1336.4" x2="958.9" y2="1319.1"/><line x1="958.9" y1="122.5" x2="958.9" y2="139.8"/>
<line x1="1130.0" y1="1336.4" x2="1130.0" y2="1319.1"/><line x1="1130.0" y1="122.5" x2="1130.0" y2="139.8"/>
<line x1="1301.2" y1="1336.4" x2="1301.2" y2="1319.1"/><line x1="1301.2" y1="122.5" x2="1301.2" y2="139.8"/>
<line x1="1472.3" y1="1336.4" x2="1472.3" y2="1319.1"/><line x1="1472.3" y1="122.5" x2="1472.3" y2="139.8"/>
<line x1="1643.4" y1="1336.4" x2="1643.4" y2="1319.1"/><line x1="1643.4" y1="122.5" x2="1643.4" y2="139.8"/>
<line x1="188.5" y1="152.0" x2="205.1" y2="152.0"/><line x1="1729.1" y1="152.0" x2="1712.5" y2="152.0"/>
<line x1="188.5" y1="300.0" x2="205.1" y2="300.0"/><line x1="1729.1" y1="300.0" x2="1712.5" y2="300.0"/>
<line x1="188.5" y1="448.0" x2="205.1" y2="448.0"/><line x1="1729.1" y1="448.0" x2="1712.5" y2="448.0"/>
<line x1="188.5" y1="596.0" x2="205.1" y2="596.0"/><line x1="1729.1" y1="596.0" x2="1712.5" y2="596.0"/>
<line x1="188.5" y1="744.0" x2="205.1" y2="744.0"/><line x1="1729.1" y1="744.0" x2="1712.5" y2="744.0"/>
<line x1="188.5" y1="892.0" x2="205.1" y2="892.0"/><line x1="1729.1" y1="892.0" x2="1712.5" y2="892.0"/>
<line x1="188.5" y1="1040.0" x2="205.1" y2="1040.0"/><line x1="1729.1" y1="1040.0" x2="1712.5" y2="1040.0"/>
<line x1="188.5" y1="1188.0" x2="205.1" y2="1188.0"/><line x1="1729.1" y1="1188.0" x2="1712.5" y2="1188.0"/>
</g>
<text class="tk" transform="translate(273.9 1412.6) scale(0.977 1)" text-anchor="middle">-80</text>
<text class="tk" transform="translate(445.5 1412.6) scale(0.977 1)" text-anchor="middle">-60</text>
<text class="tk" transform="translate(617.2 1412.6) scale(0.977 1)" text-anchor="middle">-40</text>
<text class="tk" transform="translate(788.8 1412.6) scale(0.977 1)" text-anchor="middle">-20</text>
<text class="tk" transform="translate(960.5 1412.6) scale(0.977 1)" text-anchor="middle">0</text>
<text class="tk" transform="translate(1132.1 1412.6) scale(0.977 1)" text-anchor="middle">20</text>
<text class="tk" transform="translate(1303.8 1412.6) scale(0.977 1)" text-anchor="middle">40</text>
<text class="tk" transform="translate(1475.4 1412.6) scale(0.977 1)" text-anchor="middle">60</text>
<text class="tk" transform="translate(1647.1 1412.6) scale(0.977 1)" text-anchor="middle">80</text>
<text class="tk" transform="translate(167.2 171.9) scale(0.977 1)" text-anchor="end">0</text>
<text class="tk" transform="translate(165.3 320.1) scale(0.977 1)" text-anchor="end">-5</text>
<text class="tk" transform="translate(165.3 468.3) scale(0.977 1)" text-anchor="end">-10</text>
<text class="tk" transform="translate(165.3 616.5) scale(0.977 1)" text-anchor="end">-15</text>
<text class="tk" transform="translate(165.3 764.8) scale(0.977 1)" text-anchor="end">-20</text>
<text class="tk" transform="translate(165.3 913.1) scale(0.977 1)" text-anchor="end">-25</text>
<text class="tk" transform="translate(165.3 1061.5) scale(0.977 1)" text-anchor="end">-30</text>
<text class="tk" transform="translate(165.3 1210.0) scale(0.977 1)" text-anchor="end">-35</text>
<text class="tk" transform="translate(165.3 1359.0) scale(0.977 1)" text-anchor="end">-40</text>
<text class="lb" transform="translate(959.4 1492.2) scale(0.977 1)" text-anchor="middle">Angle(Degree)</text>
<text class="lb" transform="translate(61.3 732.7) rotate(-90) scale(0.977 1)" text-anchor="middle">Transmit Beampattern(dB)</text>
<rect x="1388.0" y="14.6" width="483.2" height="428.8" fill="#ffffff" stroke="#262626" stroke-width="3.6"/>
<rect x="1397.0" y="49.8" width="20.0" height="10.4" fill="#000000"/><rect x="1425.0" y="49.8" width="20.0" height="10.4" fill="#000000"/><rect x="1454.0" y="49.8" width="19.9" height="10.4" fill="#000000"/><rect x="1482.0" y="49.8" width="19.9" height="10.4" fill="#000000"/><rect x="1510.9" y="49.8" width="20.1" height="10.4" fill="#000000"/>
<text class="lg" transform="translate(1557.9 74.7) scale(0.977 1)" text-anchor="start">FFRED-0%</text>
<rect x="1397.0" y="119.7" width="48.0" height="10.4" fill="#ff9900"/><rect x="1454.0" y="119.7" width="19.9" height="10.4" fill="#ff9900"/><rect x="1482.0" y="119.7" width="49.0" height="10.4" fill="#ff9900"/>
<text class="lg" transform="translate(1557.9 144.6) scale(0.977 1)" text-anchor="start">MNO</text>
<rect x="1397.0" y="188.8" width="151.9" height="10.4" fill="#0000ff"/>
<text class="lg" transform="translate(1557.9 213.7) scale(0.977 1)" text-anchor="start">L-IO</text>
<rect x="1397.0" y="258.3" width="48.0" height="10.4" fill="#00ff00"/><rect x="1454.0" y="258.3" width="47.9" height="10.4" fill="#00ff00"/><rect x="1510.9" y="258.3" width="38.0" height="10.4" fill="#00ff00"/>
<text class="lg" transform="translate(1557.9 283.2) scale(0.977 1)" text-anchor="start">FFRED-20%</text>
<rect x="1397.0" y="327.8" width="48.0" height="10.4" fill="#cc00cc"/><rect x="1454.0" y="327.8" width="19.9" height="10.4" fill="#cc00cc"/><rect x="1482.0" y="327.8" width="19.9" height="10.4" fill="#cc00cc"/><rect x="1510.9" y="327.8" width="38.0" height="10.4" fill="#cc00cc"/>
<text class="lg" transform="translate(1557.9 352.7) scale(0.977 1)" text-anchor="start">IO</text>
<rect x="1397.0" y="397.3" width="151.9" height="10.4" fill="#ff0000"/>
<text class="lg" transform="translate(1557.9 422.2) scale(0.977 1)" text-anchor="start">SA-L-IO</text>
</svg>
</body>
</html>
